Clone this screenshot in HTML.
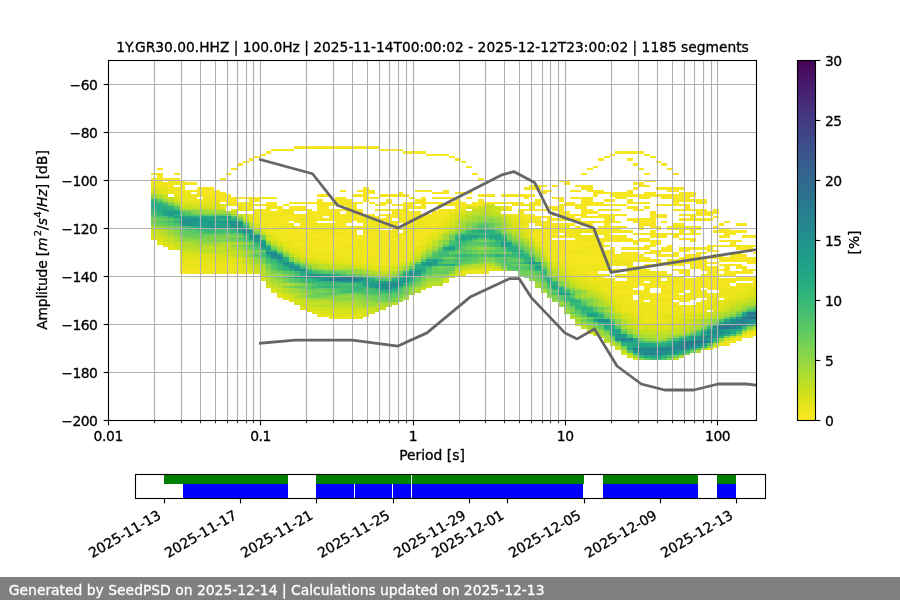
<!DOCTYPE html>
<html><head><meta charset="utf-8"><title>PPSD</title><style>html,body{margin:0;padding:0;background:#fff;width:900px;height:600px;overflow:hidden}svg{display:block;will-change:transform}text{stroke:#000;stroke-width:.3px}text.w{stroke:#fff}</style></head><body><svg width="900" height="600" viewBox="0 0 900 600">
<defs><clipPath id="axc"><rect x="108" y="60" width="648" height="360"/></clipPath>
<linearGradient id="cbg" x1="0" y1="1" x2="0" y2="0"><stop offset="0.000" stop-color="#fde725"/><stop offset="0.031" stop-color="#ece51b"/><stop offset="0.062" stop-color="#d8e219"/><stop offset="0.094" stop-color="#c2df23"/><stop offset="0.125" stop-color="#addc30"/><stop offset="0.156" stop-color="#98d83e"/><stop offset="0.188" stop-color="#84d44b"/><stop offset="0.219" stop-color="#70cf57"/><stop offset="0.250" stop-color="#5ec962"/><stop offset="0.281" stop-color="#4ec36b"/><stop offset="0.312" stop-color="#3fbc73"/><stop offset="0.344" stop-color="#32b67a"/><stop offset="0.375" stop-color="#28ae80"/><stop offset="0.406" stop-color="#22a785"/><stop offset="0.438" stop-color="#1fa088"/><stop offset="0.469" stop-color="#1f988b"/><stop offset="0.500" stop-color="#21918c"/><stop offset="0.531" stop-color="#23898e"/><stop offset="0.562" stop-color="#26828e"/><stop offset="0.594" stop-color="#297a8e"/><stop offset="0.625" stop-color="#2c728e"/><stop offset="0.656" stop-color="#2f6b8e"/><stop offset="0.688" stop-color="#33638d"/><stop offset="0.719" stop-color="#375b8d"/><stop offset="0.750" stop-color="#3b528b"/><stop offset="0.781" stop-color="#3e4989"/><stop offset="0.812" stop-color="#424086"/><stop offset="0.844" stop-color="#453781"/><stop offset="0.875" stop-color="#472d7b"/><stop offset="0.906" stop-color="#482374"/><stop offset="0.938" stop-color="#48186a"/><stop offset="0.969" stop-color="#470d60"/><stop offset="1.000" stop-color="#440154"/></linearGradient></defs>
<rect width="900" height="600" fill="#fff"/>
<g clip-path="url(#axc)" shape-rendering="crispEdges"><path fill="#f6e620" d="M323 237.6h91.7v2.4h-91.7zM546.6 237.6h5.7v2.4h-5.7zM598.2 237.6h34.4v2.4h-34.4zM638.3 237.6h11.5v2.4h-11.5zM678.5 237.6h17.2v2.4h-17.2zM288.6 235.2h86v2.4h-86zM397.5 235.2h28.7v2.4h-28.7zM535.1 235.2h40.2v2.4h-40.2zM603.9 235.2h23v2.4h-23zM649.8 235.2h17.2v2.4h-17.2zM672.7 235.2h5.8v2.4h-5.8zM718.6 235.2h11.5v2.4h-11.5zM741.5 235.2h14.5v2.4h-14.5zM311.5 232.8h11.5v2.4h-11.5zM363.1 232.8h63.1v2.4h-63.1zM535.1 232.8h23v2.4h-23zM592.5 232.8h17.2v2.4h-17.2zM632.6 232.8h68.8v2.4h-68.8zM724.3 232.8h11.5v2.4h-11.5zM282.9 230.4h28.6v2.4h-28.6zM340.2 230.4h17.2v2.4h-17.2zM380.3 230.4h11.5v2.4h-11.5zM420.5 230.4h11.4v2.4h-11.4zM540.9 230.4h5.7v2.4h-5.7zM586.7 230.4h45.9v2.4h-45.9zM649.8 230.4h5.7v2.4h-5.7zM678.5 230.4h5.7v2.4h-5.7zM689.9 230.4h5.8v2.4h-5.8zM712.9 230.4h34.4v2.4h-34.4zM282.9 228h22.9v2.4h-22.9zM374.6 228h5.7v2.4h-5.7zM391.8 228h40.1v2.4h-40.1zM546.6 228h22.9v2.4h-22.9zM586.7 228h34.4v2.4h-34.4zM638.3 228h5.8v2.4h-5.8zM655.5 228h5.8v2.4h-5.8zM667 228h34.4v2.4h-34.4zM718.6 228h11.5v2.4h-11.5zM265.7 225.6h11.4v2.4h-11.4zM294.3 225.6h34.4v2.4h-34.4zM334.5 225.6h22.9v2.4h-22.9zM523.7 225.6h5.7v2.4h-5.7zM540.9 225.6h17.2v2.4h-17.2zM575.3 225.6h5.7v2.4h-5.7zM598.2 225.6h28.7v2.4h-28.7zM638.3 225.6h5.8v2.4h-5.8zM649.8 225.6h11.5v2.4h-11.5zM667 225.6h34.4v2.4h-34.4zM712.9 225.6h5.7v2.4h-5.7zM271.4 223.2h11.5v2.4h-11.5zM334.5 223.2h11.4v2.4h-11.4zM386.1 223.2h11.4v2.4h-11.4zM403.3 223.2h11.4v2.4h-11.4zM426.2 223.2h11.5v2.4h-11.5zM535.1 223.2h40.2v2.4h-40.2zM581 223.2h11.5v2.4h-11.5zM603.9 223.2h5.8v2.4h-5.8zM638.3 223.2h17.2v2.4h-17.2zM672.7 223.2h11.5v2.4h-11.5zM718.6 223.2h5.7v2.4h-5.7zM735.8 223.2h11.5v2.4h-11.5zM277.1 220.8h11.5v2.4h-11.5zM311.5 220.8h5.8v2.4h-5.8zM334.5 220.8h17.2v2.4h-17.2zM357.4 220.8h5.7v2.4h-5.7zM397.5 220.8h17.2v2.4h-17.2zM540.9 220.8h11.4v2.4h-11.4zM575.3 220.8h45.8v2.4h-45.8zM632.6 220.8h22.9v2.4h-22.9zM661.3 220.8h5.7v2.4h-5.7zM724.3 220.8h5.8v2.4h-5.8zM259.9 218.4h40.2v2.4h-40.2zM328.7 218.4h34.4v2.4h-34.4zM374.6 218.4h17.2v2.4h-17.2zM546.6 218.4h34.4v2.4h-34.4zM603.9 218.4h11.5v2.4h-11.5zM626.9 218.4h28.6v2.4h-28.6zM678.5 218.4h34.4v2.4h-34.4zM271.4 216h51.6v2.4h-51.6zM328.7 216h51.6v2.4h-51.6zM386.1 216h57.3v2.4h-57.3zM523.7 216h28.6v2.4h-28.6zM563.8 216h11.5v2.4h-11.5zM581 216h34.4v2.4h-34.4zM649.8 216h17.2v2.4h-17.2zM689.9 216h5.8v2.4h-5.8zM712.9 216h5.7v2.4h-5.7zM282.9 213.6h91.7v2.4h-91.7zM380.3 213.6h63.1v2.4h-63.1zM517.9 213.6h17.2v2.4h-17.2zM552.3 213.6h34.4v2.4h-34.4zM598.2 213.6h28.7v2.4h-28.7zM649.8 213.6h17.2v2.4h-17.2zM678.5 213.6h34.4v2.4h-34.4zM259.9 211.2h23v2.4h-23zM311.5 211.2h28.7v2.4h-28.7zM345.9 211.2h17.2v2.4h-17.2zM391.8 211.2h28.7v2.4h-28.7zM431.9 211.2h17.2v2.4h-17.2zM558.1 211.2h11.4v2.4h-11.4zM581 211.2h17.2v2.4h-17.2zM649.8 211.2h5.7v2.4h-5.7zM695.7 211.2h22.9v2.4h-22.9zM265.7 208.8h5.7v2.4h-5.7zM277.1 208.8h5.8v2.4h-5.8zM288.6 208.8h22.9v2.4h-22.9zM317.3 208.8h45.8v2.4h-45.8zM374.6 208.8h34.4v2.4h-34.4zM437.7 208.8h17.2v2.4h-17.2zM517.9 208.8h28.7v2.4h-28.7zM552.3 208.8h11.5v2.4h-11.5zM581 208.8h11.5v2.4h-11.5zM598.2 208.8h22.9v2.4h-22.9zM632.6 208.8h11.5v2.4h-11.5zM672.7 208.8h34.4v2.4h-34.4zM712.9 208.8h5.7v2.4h-5.7zM277.1 206.4h5.8v2.4h-5.8zM288.6 206.4h17.2v2.4h-17.2zM317.3 206.4h11.4v2.4h-11.4zM345.9 206.4h11.5v2.4h-11.5zM403.3 206.4h22.9v2.4h-22.9zM454.9 206.4h11.4v2.4h-11.4zM506.5 206.4h5.7v2.4h-5.7zM529.4 206.4h5.7v2.4h-5.7zM546.6 206.4h17.2v2.4h-17.2zM575.3 206.4h11.4v2.4h-11.4zM626.9 206.4h11.4v2.4h-11.4zM644.1 206.4h5.7v2.4h-5.7zM684.2 206.4h5.7v2.4h-5.7zM259.9 204h17.2v2.4h-17.2zM282.9 204h5.7v2.4h-5.7zM317.3 204h17.2v2.4h-17.2zM340.2 204h17.2v2.4h-17.2zM374.6 204h11.5v2.4h-11.5zM391.8 204h22.9v2.4h-22.9zM420.5 204h5.7v2.4h-5.7zM437.7 204h45.8v2.4h-45.8zM512.2 204h28.7v2.4h-28.7zM558.1 204h68.8v2.4h-68.8zM655.5 204h34.4v2.4h-34.4zM231.3 201.6h22.9v2.4h-22.9zM265.7 201.6h11.4v2.4h-11.4zM288.6 201.6h74.5v2.4h-74.5zM368.9 201.6h5.7v2.4h-5.7zM380.3 201.6h11.5v2.4h-11.5zM403.3 201.6h40.1v2.4h-40.1zM449.1 201.6h17.2v2.4h-17.2zM472.1 201.6h51.6v2.4h-51.6zM529.4 201.6h11.5v2.4h-11.5zM563.8 201.6h11.5v2.4h-11.5zM581 201.6h22.9v2.4h-22.9zM626.9 201.6h22.9v2.4h-22.9zM672.7 201.6h5.8v2.4h-5.8zM695.7 201.6h11.4v2.4h-11.4zM219.8 199.2h17.2v2.4h-17.2zM248.5 199.2h11.4v2.4h-11.4zM317.3 199.2h5.7v2.4h-5.7zM334.5 199.2h17.2v2.4h-17.2zM363.1 199.2h5.8v2.4h-5.8zM386.1 199.2h5.7v2.4h-5.7zM414.7 199.2h11.5v2.4h-11.5zM454.9 199.2h5.7v2.4h-5.7zM477.8 199.2h5.7v2.4h-5.7zM535.1 199.2h5.8v2.4h-5.8zM558.1 199.2h5.7v2.4h-5.7zM581 199.2h11.5v2.4h-11.5zM603.9 199.2h11.5v2.4h-11.5zM626.9 199.2h5.7v2.4h-5.7zM672.7 199.2h34.4v2.4h-34.4zM214.1 196.8h63v2.4h-63zM334.5 196.8h11.4v2.4h-11.4zM363.1 196.8h17.2v2.4h-17.2zM409 196.8h5.7v2.4h-5.7zM420.5 196.8h5.7v2.4h-5.7zM431.9 196.8h23v2.4h-23zM466.3 196.8h5.8v2.4h-5.8zM523.7 196.8h5.7v2.4h-5.7zM552.3 196.8h11.5v2.4h-11.5zM569.5 196.8h23v2.4h-23zM615.4 196.8h11.5v2.4h-11.5zM638.3 196.8h11.5v2.4h-11.5zM661.3 196.8h28.6v2.4h-28.6zM202.6 194.4h28.7v2.4h-28.7zM317.3 194.4h11.4v2.4h-11.4zM351.7 194.4h17.2v2.4h-17.2zM380.3 194.4h28.7v2.4h-28.7zM477.8 194.4h17.2v2.4h-17.2zM500.7 194.4h34.4v2.4h-34.4zM592.5 194.4h5.7v2.4h-5.7zM609.7 194.4h86v2.4h-86zM196.9 192h28.6v2.4h-28.6zM363.1 192h11.5v2.4h-11.5zM397.5 192h5.8v2.4h-5.8zM431.9 192h17.2v2.4h-17.2zM454.9 192h17.2v2.4h-17.2zM540.9 192h5.7v2.4h-5.7zM592.5 192h40.1v2.4h-40.1zM644.1 192h11.4v2.4h-11.4zM678.5 192h17.2v2.4h-17.2zM179.7 189.6h40.1v2.4h-40.1zM340.2 189.6h5.7v2.4h-5.7zM357.4 189.6h17.2v2.4h-17.2zM414.7 189.6h17.2v2.4h-17.2zM443.4 189.6h5.7v2.4h-5.7zM540.9 189.6h11.4v2.4h-11.4zM569.5 189.6h11.5v2.4h-11.5zM586.7 189.6h17.2v2.4h-17.2zM626.9 189.6h5.7v2.4h-5.7zM667 189.6h11.5v2.4h-11.5zM179.7 187.2h5.7v2.4h-5.7zM196.9 187.2h17.2v2.4h-17.2zM363.1 187.2h5.8v2.4h-5.8zM523.7 187.2h17.2v2.4h-17.2zM581 187.2h11.5v2.4h-11.5zM632.6 187.2h5.7v2.4h-5.7zM655.5 187.2h28.7v2.4h-28.7zM168.2 184.8h5.7v2.4h-5.7zM179.7 184.8h5.7v2.4h-5.7zM529.4 184.8h17.2v2.4h-17.2zM552.3 184.8h5.8v2.4h-5.8zM575.3 184.8h17.2v2.4h-17.2zM638.3 184.8h11.5v2.4h-11.5zM179.7 182.4h17.2v2.4h-17.2zM563.8 182.4h5.7v2.4h-5.7zM632.6 182.4h11.5v2.4h-11.5zM179.7 180h5.7v2.4h-5.7zM558.1 180h11.4v2.4h-11.4zM644.1 180h11.4v2.4h-11.4zM151 177.6h28.7v2.4h-28.7zM219.8 177.6h5.7v2.4h-5.7zM477.8 177.6h5.7v2.4h-5.7zM151 172.8h11.5v2.4h-11.5zM173.9 172.8h5.8v2.4h-5.8zM225.5 172.8h5.8v2.4h-5.8zM472.1 172.8h5.7v2.4h-5.7zM581 172.8h5.7v2.4h-5.7zM644.1 172.8h5.7v2.4h-5.7zM672.7 172.8h5.8v2.4h-5.8zM294.3 242.4h63.1v2.4h-63.1zM391.8 242.4h28.7v2.4h-28.7zM552.3 242.4h51.6v2.4h-51.6zM632.6 242.4h5.7v2.4h-5.7zM649.8 242.4h11.5v2.4h-11.5zM730.1 242.4h5.7v2.4h-5.7zM305.8 240h45.9v2.4h-45.9zM540.9 240h17.2v2.4h-17.2zM563.8 240h11.5v2.4h-11.5zM603.9 240h57.4v2.4h-57.4zM689.9 240h5.8v2.4h-5.8zM718.6 240h22.9v2.4h-22.9zM156.7 175.2h5.8v2.4h-5.8zM156.7 168h5.8v2.4h-5.8zM231.3 168h5.7v2.4h-5.7zM586.7 168h5.8v2.4h-5.8zM638.3 168h5.8v2.4h-5.8zM667 168h5.7v2.4h-5.7zM328.7 244.8h11.5v2.4h-11.5zM351.7 244.8h17.2v2.4h-17.2zM540.9 244.8h45.8v2.4h-45.8zM644.1 244.8h11.4v2.4h-11.4zM667 244.8h5.7v2.4h-5.7zM707.1 244.8h48.9v2.4h-48.9zM311.5 247.2h23v2.4h-23zM363.1 247.2h11.5v2.4h-11.5zM386.1 247.2h22.9v2.4h-22.9zM558.1 247.2h22.9v2.4h-22.9zM598.2 247.2h5.7v2.4h-5.7zM609.7 247.2h5.7v2.4h-5.7zM621.1 247.2h28.7v2.4h-28.7zM661.3 247.2h11.4v2.4h-11.4zM678.5 247.2h34.4v2.4h-34.4zM735.8 247.2h17.2v2.4h-17.2zM179.7 271.2h17.2v2.4h-17.2zM586.7 271.2h11.5v2.4h-11.5zM626.9 271.2h11.4v2.4h-11.4zM655.5 271.2h11.5v2.4h-11.5zM678.5 271.2h11.4v2.4h-11.4zM707.1 271.2h11.5v2.4h-11.5zM724.3 271.2h28.7v2.4h-28.7zM598.2 268.8h11.5v2.4h-11.5zM638.3 268.8h11.5v2.4h-11.5zM672.7 268.8h17.2v2.4h-17.2zM701.4 268.8h28.7v2.4h-28.7zM741.5 268.8h14.5v2.4h-14.5zM632.6 266.4h5.7v2.4h-5.7zM689.9 266.4h28.7v2.4h-28.7zM724.3 266.4h5.8v2.4h-5.8zM735.8 266.4h11.5v2.4h-11.5zM581 264h28.7v2.4h-28.7zM644.1 264h17.2v2.4h-17.2zM667 264h17.2v2.4h-17.2zM689.9 264h17.2v2.4h-17.2zM718.6 264h22.9v2.4h-22.9zM569.5 261.6h34.4v2.4h-34.4zM655.5 261.6h63.1v2.4h-63.1zM747.3 261.6h8.7v2.4h-8.7zM569.5 259.2h34.4v2.4h-34.4zM626.9 259.2h34.4v2.4h-34.4zM667 259.2h40.1v2.4h-40.1zM718.6 259.2h37.4v2.4h-37.4zM558.1 256.8h91.7v2.4h-91.7zM678.5 256.8h77.5v2.4h-77.5zM363.1 254.4h28.7v2.4h-28.7zM558.1 254.4h86v2.4h-86zM655.5 254.4h23v2.4h-23zM684.2 254.4h17.2v2.4h-17.2zM712.9 254.4h11.4v2.4h-11.4zM730.1 254.4h17.2v2.4h-17.2zM558.1 252h11.4v2.4h-11.4zM621.1 252h17.2v2.4h-17.2zM644.1 252h17.2v2.4h-17.2zM672.7 252h5.8v2.4h-5.8zM695.7 252h11.4v2.4h-11.4zM730.1 252h11.4v2.4h-11.4zM753 252h3v2.4h-3zM323 249.6h63.1v2.4h-63.1zM586.7 249.6h28.7v2.4h-28.7zM649.8 249.6h22.9v2.4h-22.9zM678.5 249.6h11.4v2.4h-11.4zM707.1 249.6h11.5v2.4h-11.5zM747.3 249.6h5.7v2.4h-5.7zM609.7 278.4h5.7v2.4h-5.7zM626.9 278.4h34.4v2.4h-34.4zM667 278.4h5.7v2.4h-5.7zM678.5 278.4h34.4v2.4h-34.4zM747.3 278.4h8.7v2.4h-8.7zM632.6 276h5.7v2.4h-5.7zM695.7 276h22.9v2.4h-22.9zM735.8 276h20.2v2.4h-20.2zM621.1 273.6h23v2.4h-23zM684.2 273.6h5.7v2.4h-5.7zM701.4 273.6h34.4v2.4h-34.4zM632.6 285.6h5.7v2.4h-5.7zM644.1 285.6h86v2.4h-86zM609.7 283.2h120.4v2.4h-120.4zM735.8 283.2h5.7v2.4h-5.7zM615.4 280.8h11.5v2.4h-11.5zM707.1 280.8h28.7v2.4h-28.7zM615.4 290.4h17.2v2.4h-17.2zM661.3 288h40.1v2.4h-40.1zM707.1 288h5.8v2.4h-5.8zM655.5 295.2h34.4v2.4h-34.4zM615.4 292.8h63.1v2.4h-63.1zM626.9 297.6h5.7v2.4h-5.7zM638.3 297.6h11.5v2.4h-11.5zM626.9 300h17.2v2.4h-17.2zM684.2 300h5.7v2.4h-5.7zM655.5 302.4h23v2.4h-23zM667 307.2h11.5v2.4h-11.5zM747.3 333.6h8.7v2.4h-8.7zM741.5 336h11.5v2.4h-11.5zM724.3 343.2h5.8v2.4h-5.8zM237 163.2h5.7v2.4h-5.7zM632.6 163.2h5.7v2.4h-5.7zM661.3 163.2h5.7v2.4h-5.7zM242.7 160.8h5.8v2.4h-5.8zM460.6 160.8h5.7v2.4h-5.7zM655.5 160.8h5.8v2.4h-5.8zM248.5 158.4h5.7v2.4h-5.7zM454.9 158.4h5.7v2.4h-5.7zM598.2 158.4h5.7v2.4h-5.7zM626.9 158.4h5.7v2.4h-5.7zM254.2 156h5.7v2.4h-5.7zM449.1 156h5.8v2.4h-5.8zM603.9 156h5.8v2.4h-5.8zM649.8 156h5.7v2.4h-5.7zM259.9 153.6h5.8v2.4h-5.8zM426.2 153.6h22.9v2.4h-22.9zM609.7 153.6h5.7v2.4h-5.7zM644.1 153.6h5.7v2.4h-5.7zM265.7 151.2h5.7v2.4h-5.7zM403.3 151.2h22.9v2.4h-22.9zM615.4 151.2h28.7v2.4h-28.7zM271.4 148.8h22.9v2.4h-22.9zM380.3 148.8h23v2.4h-23zM294.3 146.4h86v2.4h-86zM466.3 165.6h5.8v2.4h-5.8zM592.5 165.6h5.7v2.4h-5.7z"/><path fill="#efe51c" d="M277.1 237.6h45.9v2.4h-45.9zM414.7 237.6h11.5v2.4h-11.5zM535.1 237.6h11.5v2.4h-11.5zM575.3 237.6h22.9v2.4h-22.9zM277.1 235.2h11.5v2.4h-11.5zM374.6 235.2h22.9v2.4h-22.9zM426.2 235.2h5.7v2.4h-5.7zM529.4 235.2h5.7v2.4h-5.7zM575.3 235.2h22.9v2.4h-22.9zM265.7 232.8h45.8v2.4h-45.8zM323 232.8h34.4v2.4h-34.4zM426.2 232.8h5.7v2.4h-5.7zM529.4 232.8h5.7v2.4h-5.7zM563.8 232.8h17.2v2.4h-17.2zM265.7 230.4h17.2v2.4h-17.2zM311.5 230.4h28.7v2.4h-28.7zM363.1 230.4h17.2v2.4h-17.2zM391.8 230.4h5.7v2.4h-5.7zM403.3 230.4h17.2v2.4h-17.2zM431.9 230.4h5.8v2.4h-5.8zM529.4 230.4h11.5v2.4h-11.5zM546.6 230.4h40.1v2.4h-40.1zM265.7 228h17.2v2.4h-17.2zM305.8 228h68.8v2.4h-68.8zM431.9 228h11.5v2.4h-11.5zM529.4 228h17.2v2.4h-17.2zM569.5 228h17.2v2.4h-17.2zM259.9 225.6h5.8v2.4h-5.8zM277.1 225.6h17.2v2.4h-17.2zM328.7 225.6h5.8v2.4h-5.8zM357.4 225.6h34.4v2.4h-34.4zM403.3 225.6h34.4v2.4h-34.4zM517.9 225.6h5.8v2.4h-5.8zM558.1 225.6h11.4v2.4h-11.4zM259.9 223.2h11.5v2.4h-11.5zM282.9 223.2h11.4v2.4h-11.4zM300.1 223.2h34.4v2.4h-34.4zM363.1 223.2h23v2.4h-23zM414.7 223.2h11.5v2.4h-11.5zM437.7 223.2h5.7v2.4h-5.7zM523.7 223.2h5.7v2.4h-5.7zM254.2 220.8h22.9v2.4h-22.9zM294.3 220.8h17.2v2.4h-17.2zM363.1 220.8h17.2v2.4h-17.2zM386.1 220.8h11.4v2.4h-11.4zM414.7 220.8h28.7v2.4h-28.7zM523.7 220.8h17.2v2.4h-17.2zM254.2 218.4h5.7v2.4h-5.7zM300.1 218.4h28.6v2.4h-28.6zM363.1 218.4h11.5v2.4h-11.5zM397.5 218.4h51.6v2.4h-51.6zM517.9 218.4h23v2.4h-23zM254.2 216h17.2v2.4h-17.2zM443.4 216h5.7v2.4h-5.7zM517.9 216h5.8v2.4h-5.8zM248.5 213.6h34.4v2.4h-34.4zM443.4 213.6h5.7v2.4h-5.7zM512.2 213.6h5.7v2.4h-5.7zM254.2 211.2h5.7v2.4h-5.7zM282.9 211.2h11.4v2.4h-11.4zM305.8 211.2h5.7v2.4h-5.7zM449.1 211.2h5.8v2.4h-5.8zM517.9 211.2h5.8v2.4h-5.8zM242.7 208.8h23v2.4h-23zM282.9 208.8h5.7v2.4h-5.7zM454.9 208.8h5.7v2.4h-5.7zM506.5 208.8h5.7v2.4h-5.7zM242.7 206.4h11.5v2.4h-11.5zM265.7 206.4h11.4v2.4h-11.4zM231.3 204h28.6v2.4h-28.6zM179.7 199.2h40.1v2.4h-40.1zM191.1 196.8h5.8v2.4h-5.8zM202.6 196.8h11.5v2.4h-11.5zM179.7 194.4h22.9v2.4h-22.9zM168.2 192h22.9v2.4h-22.9zM168.2 189.6h11.5v2.4h-11.5zM168.2 187.2h11.5v2.4h-11.5zM156.7 184.8h11.5v2.4h-11.5zM151 182.4h28.7v2.4h-28.7zM151 180h11.5v2.4h-11.5zM168.2 180h11.5v2.4h-11.5zM288.6 242.4h5.7v2.4h-5.7zM357.4 242.4h34.4v2.4h-34.4zM420.5 242.4h5.7v2.4h-5.7zM540.9 242.4h11.4v2.4h-11.4zM282.9 240h22.9v2.4h-22.9zM351.7 240h74.5v2.4h-74.5zM535.1 240h5.8v2.4h-5.8zM558.1 240h5.7v2.4h-5.7zM575.3 240h28.6v2.4h-28.6zM288.6 244.8h40.1v2.4h-40.1zM340.2 244.8h11.5v2.4h-11.5zM368.9 244.8h51.6v2.4h-51.6zM586.7 244.8h23v2.4h-23zM294.3 247.2h17.2v2.4h-17.2zM334.5 247.2h28.6v2.4h-28.6zM374.6 247.2h11.5v2.4h-11.5zM409 247.2h11.5v2.4h-11.5zM546.6 247.2h11.5v2.4h-11.5zM581 247.2h17.2v2.4h-17.2zM196.9 271.2h45.8v2.4h-45.8zM472.1 271.2h17.2v2.4h-17.2zM569.5 271.2h17.2v2.4h-17.2zM638.3 271.2h17.2v2.4h-17.2zM179.7 268.8h57.3v2.4h-57.3zM575.3 268.8h22.9v2.4h-22.9zM609.7 268.8h28.6v2.4h-28.6zM179.7 266.4h51.6v2.4h-51.6zM563.8 266.4h45.9v2.4h-45.9zM626.9 266.4h5.7v2.4h-5.7zM179.7 264h5.7v2.4h-5.7zM208.3 264h28.7v2.4h-28.7zM374.6 264h17.2v2.4h-17.2zM563.8 264h17.2v2.4h-17.2zM609.7 264h22.9v2.4h-22.9zM179.7 261.6h22.9v2.4h-22.9zM225.5 261.6h5.8v2.4h-5.8zM363.1 261.6h34.4v2.4h-34.4zM558.1 261.6h11.4v2.4h-11.4zM603.9 261.6h28.7v2.4h-28.7zM345.9 259.2h63.1v2.4h-63.1zM552.3 259.2h17.2v2.4h-17.2zM603.9 259.2h23v2.4h-23zM317.3 256.8h91.7v2.4h-91.7zM552.3 256.8h5.8v2.4h-5.8zM305.8 254.4h57.3v2.4h-57.3zM391.8 254.4h17.2v2.4h-17.2zM546.6 254.4h11.5v2.4h-11.5zM300.1 252h114.6v2.4h-114.6zM546.6 252h11.5v2.4h-11.5zM569.5 252h45.9v2.4h-45.9zM300.1 249.6h22.9v2.4h-22.9zM386.1 249.6h28.6v2.4h-28.6zM546.6 249.6h40.1v2.4h-40.1zM586.7 278.4h23v2.4h-23zM672.7 278.4h5.8v2.4h-5.8zM712.9 278.4h34.4v2.4h-34.4zM581 276h22.9v2.4h-22.9zM615.4 276h17.2v2.4h-17.2zM638.3 276h45.9v2.4h-45.9zM586.7 273.6h23v2.4h-23zM615.4 273.6h5.7v2.4h-5.7zM644.1 273.6h28.6v2.4h-28.6zM603.9 285.6h28.7v2.4h-28.7zM730.1 285.6h17.2v2.4h-17.2zM598.2 283.2h11.5v2.4h-11.5zM741.5 283.2h14.5v2.4h-14.5zM592.5 280.8h22.9v2.4h-22.9zM626.9 280.8h17.2v2.4h-17.2zM649.8 280.8h57.3v2.4h-57.3zM753 280.8h3v2.4h-3zM603.9 290.4h11.5v2.4h-11.5zM632.6 290.4h17.2v2.4h-17.2zM661.3 290.4h22.9v2.4h-22.9zM689.9 290.4h17.2v2.4h-17.2zM718.6 290.4h22.9v2.4h-22.9zM598.2 288h34.4v2.4h-34.4zM644.1 288h5.7v2.4h-5.7zM712.9 288h34.4v2.4h-34.4zM615.4 295.2h17.2v2.4h-17.2zM638.3 295.2h17.2v2.4h-17.2zM689.9 295.2h45.9v2.4h-45.9zM609.7 292.8h5.7v2.4h-5.7zM684.2 292.8h51.6v2.4h-51.6zM615.4 297.6h11.5v2.4h-11.5zM649.8 297.6h45.9v2.4h-45.9zM707.1 297.6h11.5v2.4h-11.5zM615.4 300h11.5v2.4h-11.5zM649.8 300h22.9v2.4h-22.9zM678.5 300h5.7v2.4h-5.7zM701.4 300h11.5v2.4h-11.5zM621.1 302.4h34.4v2.4h-34.4zM695.7 302.4h17.2v2.4h-17.2zM621.1 307.2h45.9v2.4h-45.9zM678.5 307.2h28.6v2.4h-28.6zM621.1 304.8h80.3v2.4h-80.3zM621.1 309.6h86v2.4h-86zM632.6 312h57.3v2.4h-57.3zM644.1 314.4h17.2v2.4h-17.2zM328.7 316.8h23v2.4h-23zM638.3 316.8h17.2v2.4h-17.2zM644.1 321.6h5.7v2.4h-5.7zM644.1 319.2h22.9v2.4h-22.9zM747.3 331.2h8.7v2.4h-8.7zM741.5 333.6h5.8v2.4h-5.8zM724.3 340.8h11.5v2.4h-11.5zM730.1 338.4h11.4v2.4h-11.4zM718.6 343.2h5.7v2.4h-5.7z"/><path fill="#e5e419" d="M151 237.6h5.7v2.4h-5.7zM271.4 237.6h5.7v2.4h-5.7zM426.2 237.6h5.7v2.4h-5.7zM271.4 235.2h5.7v2.4h-5.7zM431.9 235.2h5.8v2.4h-5.8zM431.9 232.8h5.8v2.4h-5.8zM437.7 230.4h5.7v2.4h-5.7zM523.7 230.4h5.7v2.4h-5.7zM259.9 228h5.8v2.4h-5.8zM523.7 228h5.7v2.4h-5.7zM437.7 225.6h5.7v2.4h-5.7zM443.4 223.2h5.7v2.4h-5.7zM517.9 223.2h5.8v2.4h-5.8zM443.4 220.8h5.7v2.4h-5.7zM517.9 220.8h5.8v2.4h-5.8zM248.5 218.4h5.7v2.4h-5.7zM512.2 218.4h5.7v2.4h-5.7zM248.5 216h5.7v2.4h-5.7zM449.1 216h5.8v2.4h-5.8zM512.2 216h5.7v2.4h-5.7zM449.1 213.6h5.8v2.4h-5.8zM506.5 213.6h5.7v2.4h-5.7zM454.9 211.2h5.7v2.4h-5.7zM237 208.8h5.7v2.4h-5.7zM500.7 208.8h5.8v2.4h-5.8zM237 206.4h5.7v2.4h-5.7zM500.7 206.4h5.8v2.4h-5.8zM208.3 204h23v2.4h-23zM191.1 201.6h28.7v2.4h-28.7zM225.5 201.6h5.8v2.4h-5.8zM179.7 196.8h11.4v2.4h-11.4zM173.9 194.4h5.8v2.4h-5.8zM162.5 192h5.7v2.4h-5.7zM162.5 189.6h5.7v2.4h-5.7zM156.7 187.2h11.5v2.4h-11.5zM151 184.8h5.7v2.4h-5.7zM156.7 242.4h5.8v2.4h-5.8zM282.9 242.4h5.7v2.4h-5.7zM535.1 242.4h5.8v2.4h-5.8zM277.1 240h5.8v2.4h-5.8zM426.2 240h5.7v2.4h-5.7zM162.5 244.8h5.7v2.4h-5.7zM282.9 244.8h5.7v2.4h-5.7zM420.5 244.8h5.7v2.4h-5.7zM535.1 244.8h5.8v2.4h-5.8zM168.2 247.2h5.7v2.4h-5.7zM288.6 247.2h5.7v2.4h-5.7zM540.9 247.2h5.7v2.4h-5.7zM242.7 271.2h11.5v2.4h-11.5zM460.6 271.2h11.5v2.4h-11.5zM563.8 271.2h5.7v2.4h-5.7zM237 268.8h5.7v2.4h-5.7zM380.3 268.8h11.5v2.4h-11.5zM472.1 268.8h22.9v2.4h-22.9zM563.8 268.8h11.5v2.4h-11.5zM231.3 266.4h11.4v2.4h-11.4zM368.9 266.4h22.9v2.4h-22.9zM558.1 266.4h5.7v2.4h-5.7zM185.4 264h22.9v2.4h-22.9zM237 264h5.7v2.4h-5.7zM357.4 264h17.2v2.4h-17.2zM391.8 264h5.7v2.4h-5.7zM558.1 264h5.7v2.4h-5.7zM202.6 261.6h22.9v2.4h-22.9zM231.3 261.6h5.7v2.4h-5.7zM328.7 261.6h34.4v2.4h-34.4zM397.5 261.6h5.8v2.4h-5.8zM179.7 259.2h57.3v2.4h-57.3zM317.3 259.2h28.6v2.4h-28.6zM179.7 256.8h22.9v2.4h-22.9zM305.8 256.8h11.5v2.4h-11.5zM409 256.8h5.7v2.4h-5.7zM546.6 256.8h5.7v2.4h-5.7zM300.1 254.4h5.7v2.4h-5.7zM409 254.4h5.7v2.4h-5.7zM294.3 252h5.8v2.4h-5.8zM414.7 252h5.8v2.4h-5.8zM294.3 249.6h5.8v2.4h-5.8zM414.7 249.6h5.8v2.4h-5.8zM540.9 249.6h5.7v2.4h-5.7zM581 278.4h5.7v2.4h-5.7zM575.3 276h5.7v2.4h-5.7zM460.6 273.6h5.7v2.4h-5.7zM569.5 273.6h17.2v2.4h-17.2zM592.5 285.6h11.4v2.4h-11.4zM747.3 285.6h8.7v2.4h-8.7zM586.7 283.2h11.5v2.4h-11.5zM581 280.8h11.5v2.4h-11.5zM741.5 290.4h11.5v2.4h-11.5zM592.5 288h5.7v2.4h-5.7zM747.3 288h8.7v2.4h-8.7zM277.1 295.2h5.8v2.4h-5.8zM609.7 295.2h5.7v2.4h-5.7zM735.8 295.2h11.5v2.4h-11.5zM603.9 292.8h5.8v2.4h-5.8zM735.8 292.8h11.5v2.4h-11.5zM609.7 297.6h5.7v2.4h-5.7zM724.3 297.6h11.5v2.4h-11.5zM712.9 300h17.2v2.4h-17.2zM615.4 302.4h5.7v2.4h-5.7zM712.9 302.4h11.4v2.4h-11.4zM707.1 307.2h11.5v2.4h-11.5zM615.4 304.8h5.7v2.4h-5.7zM701.4 304.8h11.5v2.4h-11.5zM626.9 312h5.7v2.4h-5.7zM689.9 312h11.5v2.4h-11.5zM317.3 314.4h17.2v2.4h-17.2zM345.9 314.4h17.2v2.4h-17.2zM632.6 314.4h11.5v2.4h-11.5zM661.3 314.4h17.2v2.4h-17.2zM351.7 316.8h11.4v2.4h-11.4zM632.6 316.8h5.7v2.4h-5.7zM655.5 316.8h40.2v2.4h-40.2zM655.5 324h5.8v2.4h-5.8zM638.3 321.6h5.8v2.4h-5.8zM649.8 321.6h17.2v2.4h-17.2zM638.3 319.2h5.8v2.4h-5.8zM667 319.2h11.5v2.4h-11.5zM735.8 336h5.7v2.4h-5.7zM707.1 348h5.8v2.4h-5.8zM712.9 345.6h5.7v2.4h-5.7z"/><path fill="#dde318" d="M156.7 237.6h5.8v2.4h-5.8zM431.9 237.6h5.8v2.4h-5.8zM529.4 237.6h5.7v2.4h-5.7zM523.7 235.2h5.7v2.4h-5.7zM523.7 232.8h5.7v2.4h-5.7zM443.4 228h5.7v2.4h-5.7zM517.9 228h5.8v2.4h-5.8zM443.4 225.6h5.7v2.4h-5.7zM512.2 225.6h5.7v2.4h-5.7zM254.2 223.2h5.7v2.4h-5.7zM512.2 223.2h5.7v2.4h-5.7zM512.2 220.8h5.7v2.4h-5.7zM449.1 218.4h5.8v2.4h-5.8zM454.9 216h5.7v2.4h-5.7zM506.5 216h5.7v2.4h-5.7zM242.7 213.6h5.8v2.4h-5.8zM454.9 213.6h5.7v2.4h-5.7zM460.6 211.2h5.7v2.4h-5.7zM231.3 208.8h5.7v2.4h-5.7zM460.6 208.8h5.7v2.4h-5.7zM214.1 206.4h11.4v2.4h-11.4zM466.3 206.4h11.5v2.4h-11.5zM196.9 204h11.4v2.4h-11.4zM179.7 201.6h11.4v2.4h-11.4zM173.9 196.8h5.8v2.4h-5.8zM156.7 192h5.8v2.4h-5.8zM156.7 189.6h5.8v2.4h-5.8zM151 187.2h5.7v2.4h-5.7zM162.5 242.4h5.7v2.4h-5.7zM277.1 242.4h5.8v2.4h-5.8zM426.2 242.4h5.7v2.4h-5.7zM156.7 240h5.8v2.4h-5.8zM529.4 240h5.7v2.4h-5.7zM168.2 244.8h5.7v2.4h-5.7zM420.5 247.2h5.7v2.4h-5.7zM242.7 268.8h5.8v2.4h-5.8zM374.6 268.8h5.7v2.4h-5.7zM466.3 268.8h5.8v2.4h-5.8zM495 268.8h5.7v2.4h-5.7zM242.7 266.4h5.8v2.4h-5.8zM363.1 266.4h5.8v2.4h-5.8zM242.7 264h5.8v2.4h-5.8zM351.7 264h5.7v2.4h-5.7zM397.5 264h5.8v2.4h-5.8zM552.3 264h5.8v2.4h-5.8zM237 261.6h5.7v2.4h-5.7zM323 261.6h5.7v2.4h-5.7zM552.3 261.6h5.8v2.4h-5.8zM237 259.2h5.7v2.4h-5.7zM305.8 259.2h11.5v2.4h-11.5zM409 259.2h5.7v2.4h-5.7zM546.6 259.2h5.7v2.4h-5.7zM202.6 256.8h34.4v2.4h-34.4zM300.1 256.8h5.7v2.4h-5.7zM179.7 254.4h34.4v2.4h-34.4zM540.9 252h5.7v2.4h-5.7zM288.6 249.6h5.7v2.4h-5.7zM575.3 278.4h5.7v2.4h-5.7zM569.5 276h5.8v2.4h-5.8zM454.9 273.6h5.7v2.4h-5.7zM563.8 273.6h5.7v2.4h-5.7zM265.7 285.6h5.7v2.4h-5.7zM586.7 285.6h5.8v2.4h-5.8zM581 283.2h5.7v2.4h-5.7zM575.3 280.8h5.7v2.4h-5.7zM271.4 290.4h5.7v2.4h-5.7zM598.2 290.4h5.7v2.4h-5.7zM753 290.4h3v2.4h-3zM586.7 288h5.8v2.4h-5.8zM282.9 295.2h5.7v2.4h-5.7zM603.9 295.2h5.8v2.4h-5.8zM747.3 295.2h5.7v2.4h-5.7zM277.1 292.8h5.8v2.4h-5.8zM747.3 292.8h8.7v2.4h-8.7zM282.9 297.6h11.4v2.4h-11.4zM735.8 297.6h5.7v2.4h-5.7zM288.6 300h5.7v2.4h-5.7zM609.7 300h5.7v2.4h-5.7zM730.1 300h11.4v2.4h-11.4zM609.7 302.4h5.7v2.4h-5.7zM724.3 302.4h5.8v2.4h-5.8zM300.1 307.2h5.7v2.4h-5.7zM615.4 307.2h5.7v2.4h-5.7zM718.6 307.2h5.7v2.4h-5.7zM712.9 304.8h11.4v2.4h-11.4zM305.8 309.6h40.1v2.4h-40.1zM615.4 309.6h5.7v2.4h-5.7zM712.9 309.6h5.7v2.4h-5.7zM311.5 312h17.2v2.4h-17.2zM621.1 312h5.8v2.4h-5.8zM701.4 312h5.7v2.4h-5.7zM334.5 314.4h11.4v2.4h-11.4zM363.1 314.4h5.8v2.4h-5.8zM626.9 314.4h5.7v2.4h-5.7zM678.5 314.4h17.2v2.4h-17.2zM626.9 316.8h5.7v2.4h-5.7zM695.7 316.8h5.7v2.4h-5.7zM638.3 324h17.2v2.4h-17.2zM661.3 324h17.2v2.4h-17.2zM632.6 321.6h5.7v2.4h-5.7zM667 321.6h22.9v2.4h-22.9zM632.6 319.2h5.7v2.4h-5.7zM678.5 319.2h5.7v2.4h-5.7zM638.3 326.4h5.8v2.4h-5.8zM649.8 326.4h22.9v2.4h-22.9zM753 328.8h3v2.4h-3zM632.6 357.6h5.7v2.4h-5.7z"/><path fill="#d2e21b" d="M162.5 237.6h5.7v2.4h-5.7zM265.7 237.6h5.7v2.4h-5.7zM151 235.2h5.7v2.4h-5.7zM437.7 232.8h5.7v2.4h-5.7zM259.9 230.4h5.8v2.4h-5.8zM443.4 230.4h5.7v2.4h-5.7zM517.9 230.4h5.8v2.4h-5.8zM512.2 228h5.7v2.4h-5.7zM254.2 225.6h5.7v2.4h-5.7zM449.1 223.2h5.8v2.4h-5.8zM248.5 220.8h5.7v2.4h-5.7zM449.1 220.8h5.8v2.4h-5.8zM506.5 218.4h5.7v2.4h-5.7zM242.7 216h5.8v2.4h-5.8zM500.7 213.6h5.8v2.4h-5.8zM495 208.8h5.7v2.4h-5.7zM196.9 206.4h17.2v2.4h-17.2zM179.7 204h17.2v2.4h-17.2zM489.3 204h5.7v2.4h-5.7zM173.9 199.2h5.8v2.4h-5.8zM168.2 242.4h5.7v2.4h-5.7zM271.4 240h5.7v2.4h-5.7zM426.2 244.8h5.7v2.4h-5.7zM173.9 247.2h5.8v2.4h-5.8zM282.9 247.2h5.7v2.4h-5.7zM254.2 271.2h5.7v2.4h-5.7zM558.1 271.2h5.7v2.4h-5.7zM248.5 268.8h5.7v2.4h-5.7zM368.9 268.8h5.7v2.4h-5.7zM391.8 268.8h5.7v2.4h-5.7zM460.6 268.8h5.7v2.4h-5.7zM558.1 268.8h5.7v2.4h-5.7zM248.5 266.4h5.7v2.4h-5.7zM357.4 266.4h5.7v2.4h-5.7zM391.8 266.4h5.7v2.4h-5.7zM483.5 266.4h11.5v2.4h-11.5zM552.3 266.4h5.8v2.4h-5.8zM340.2 264h11.5v2.4h-11.5zM317.3 261.6h5.7v2.4h-5.7zM403.3 261.6h5.7v2.4h-5.7zM237 256.8h5.7v2.4h-5.7zM214.1 254.4h11.4v2.4h-11.4zM294.3 254.4h5.8v2.4h-5.8zM414.7 254.4h5.8v2.4h-5.8zM540.9 254.4h5.7v2.4h-5.7zM179.7 252h22.9v2.4h-22.9zM225.5 252h5.8v2.4h-5.8zM288.6 252h5.7v2.4h-5.7zM420.5 249.6h5.7v2.4h-5.7zM259.9 278.4h5.8v2.4h-5.8zM569.5 278.4h5.8v2.4h-5.8zM563.8 276h5.7v2.4h-5.7zM581 285.6h5.7v2.4h-5.7zM575.3 283.2h5.7v2.4h-5.7zM443.4 280.8h5.7v2.4h-5.7zM592.5 290.4h5.7v2.4h-5.7zM271.4 288h5.7v2.4h-5.7zM753 295.2h3v2.4h-3zM598.2 292.8h5.7v2.4h-5.7zM603.9 297.6h5.8v2.4h-5.8zM741.5 297.6h5.8v2.4h-5.8zM294.3 300h5.8v2.4h-5.8zM741.5 300h5.8v2.4h-5.8zM294.3 302.4h5.8v2.4h-5.8zM730.1 302.4h5.7v2.4h-5.7zM305.8 307.2h17.2v2.4h-17.2zM300.1 304.8h5.7v2.4h-5.7zM609.7 304.8h5.7v2.4h-5.7zM724.3 304.8h5.8v2.4h-5.8zM345.9 309.6h23v2.4h-23zM718.6 309.6h5.7v2.4h-5.7zM328.7 312h45.9v2.4h-45.9zM707.1 312h5.8v2.4h-5.8zM621.1 314.4h5.8v2.4h-5.8zM695.7 314.4h11.4v2.4h-11.4zM621.1 316.8h5.8v2.4h-5.8zM701.4 316.8h5.7v2.4h-5.7zM632.6 324h5.7v2.4h-5.7zM678.5 324h11.4v2.4h-11.4zM689.9 321.6h5.8v2.4h-5.8zM632.6 326.4h5.7v2.4h-5.7zM644.1 326.4h5.7v2.4h-5.7zM672.7 326.4h5.8v2.4h-5.8zM586.7 331.2h5.8v2.4h-5.8zM655.5 328.8h11.5v2.4h-11.5zM603.9 340.8h5.8v2.4h-5.8zM724.3 338.4h5.8v2.4h-5.8zM621.1 352.8h5.8v2.4h-5.8zM626.9 355.2h5.7v2.4h-5.7z"/><path fill="#cae11f" d="M156.7 235.2h5.8v2.4h-5.8zM265.7 235.2h5.7v2.4h-5.7zM437.7 235.2h5.7v2.4h-5.7zM151 232.8h5.7v2.4h-5.7zM517.9 232.8h5.8v2.4h-5.8zM151 230.4h5.7v2.4h-5.7zM449.1 228h5.8v2.4h-5.8zM449.1 225.6h5.8v2.4h-5.8zM506.5 225.6h5.7v2.4h-5.7zM506.5 220.8h5.7v2.4h-5.7zM454.9 218.4h5.7v2.4h-5.7zM460.6 216h5.7v2.4h-5.7zM460.6 213.6h5.7v2.4h-5.7zM466.3 211.2h5.8v2.4h-5.8zM495 211.2h5.7v2.4h-5.7zM185.4 206.4h11.5v2.4h-11.5zM477.8 206.4h5.7v2.4h-5.7zM495 206.4h5.7v2.4h-5.7zM483.5 204h5.8v2.4h-5.8zM168.2 196.8h5.7v2.4h-5.7zM162.5 194.4h5.7v2.4h-5.7zM151 192h5.7v2.4h-5.7zM151 189.6h5.7v2.4h-5.7zM173.9 242.4h5.8v2.4h-5.8zM162.5 240h5.7v2.4h-5.7zM173.9 244.8h5.8v2.4h-5.8zM277.1 244.8h5.8v2.4h-5.8zM535.1 247.2h5.8v2.4h-5.8zM454.9 271.2h5.7v2.4h-5.7zM254.2 268.8h5.7v2.4h-5.7zM351.7 266.4h5.7v2.4h-5.7zM477.8 266.4h5.7v2.4h-5.7zM248.5 264h5.7v2.4h-5.7zM334.5 264h5.7v2.4h-5.7zM403.3 264h5.7v2.4h-5.7zM242.7 261.6h5.8v2.4h-5.8zM311.5 261.6h5.8v2.4h-5.8zM242.7 259.2h5.8v2.4h-5.8zM300.1 259.2h5.7v2.4h-5.7zM225.5 254.4h5.8v2.4h-5.8zM202.6 252h22.9v2.4h-22.9zM231.3 252h5.7v2.4h-5.7zM179.7 249.6h17.2v2.4h-17.2zM443.4 278.4h5.7v2.4h-5.7zM259.9 276h5.8v2.4h-5.8zM558.1 273.6h5.7v2.4h-5.7zM271.4 285.6h5.7v2.4h-5.7zM426.2 285.6h5.7v2.4h-5.7zM575.3 285.6h5.7v2.4h-5.7zM265.7 283.2h5.7v2.4h-5.7zM569.5 280.8h5.8v2.4h-5.8zM277.1 290.4h5.8v2.4h-5.8zM277.1 288h5.8v2.4h-5.8zM420.5 288h5.7v2.4h-5.7zM581 288h5.7v2.4h-5.7zM288.6 295.2h5.7v2.4h-5.7zM598.2 295.2h5.7v2.4h-5.7zM282.9 292.8h5.7v2.4h-5.7zM294.3 297.6h5.8v2.4h-5.8zM300.1 300h5.7v2.4h-5.7zM603.9 300h5.8v2.4h-5.8zM300.1 302.4h22.9v2.4h-22.9zM735.8 302.4h5.7v2.4h-5.7zM323 307.2h40.1v2.4h-40.1zM724.3 307.2h5.8v2.4h-5.8zM305.8 304.8h5.7v2.4h-5.7zM730.1 304.8h5.7v2.4h-5.7zM368.9 309.6h5.7v2.4h-5.7zM615.4 312h5.7v2.4h-5.7zM712.9 312h5.7v2.4h-5.7zM707.1 314.4h5.8v2.4h-5.8zM707.1 316.8h5.8v2.4h-5.8zM689.9 324h5.8v2.4h-5.8zM626.9 321.6h5.7v2.4h-5.7zM695.7 321.6h5.7v2.4h-5.7zM626.9 319.2h5.7v2.4h-5.7zM684.2 319.2h5.7v2.4h-5.7zM678.5 326.4h5.7v2.4h-5.7zM644.1 331.2h22.9v2.4h-22.9zM638.3 328.8h17.2v2.4h-17.2zM667 328.8h11.5v2.4h-11.5zM718.6 340.8h5.7v2.4h-5.7zM615.4 348h5.7v2.4h-5.7zM615.4 345.6h5.7v2.4h-5.7z"/><path fill="#c2df23" d="M168.2 237.6h5.7v2.4h-5.7zM437.7 237.6h5.7v2.4h-5.7zM523.7 237.6h5.7v2.4h-5.7zM162.5 235.2h5.7v2.4h-5.7zM517.9 235.2h5.8v2.4h-5.8zM156.7 232.8h5.8v2.4h-5.8zM259.9 232.8h5.8v2.4h-5.8zM156.7 230.4h5.8v2.4h-5.8zM512.2 230.4h5.7v2.4h-5.7zM454.9 223.2h5.7v2.4h-5.7zM506.5 223.2h5.7v2.4h-5.7zM454.9 220.8h5.7v2.4h-5.7zM242.7 218.4h5.8v2.4h-5.8zM500.7 216h5.8v2.4h-5.8zM237 213.6h5.7v2.4h-5.7zM495 213.6h5.7v2.4h-5.7zM231.3 211.2h5.7v2.4h-5.7zM472.1 211.2h5.7v2.4h-5.7zM489.3 211.2h5.7v2.4h-5.7zM219.8 208.8h5.7v2.4h-5.7zM472.1 208.8h5.7v2.4h-5.7zM489.3 208.8h5.7v2.4h-5.7zM179.7 206.4h5.7v2.4h-5.7zM483.5 206.4h11.5v2.4h-11.5zM162.5 196.8h5.7v2.4h-5.7zM271.4 242.4h5.7v2.4h-5.7zM529.4 242.4h5.7v2.4h-5.7zM168.2 240h5.7v2.4h-5.7zM431.9 240h5.8v2.4h-5.8zM523.7 240h5.7v2.4h-5.7zM529.4 244.8h5.7v2.4h-5.7zM179.7 247.2h5.7v2.4h-5.7zM202.6 247.2h28.7v2.4h-28.7zM426.2 247.2h5.7v2.4h-5.7zM380.3 271.2h11.5v2.4h-11.5zM552.3 268.8h5.8v2.4h-5.8zM254.2 266.4h5.7v2.4h-5.7zM323 266.4h28.7v2.4h-28.7zM397.5 266.4h5.8v2.4h-5.8zM472.1 266.4h5.7v2.4h-5.7zM328.7 264h5.8v2.4h-5.8zM483.5 264h5.8v2.4h-5.8zM546.6 264h5.7v2.4h-5.7zM305.8 261.6h5.7v2.4h-5.7zM546.6 261.6h5.7v2.4h-5.7zM242.7 256.8h5.8v2.4h-5.8zM414.7 256.8h5.8v2.4h-5.8zM540.9 256.8h5.7v2.4h-5.7zM231.3 254.4h5.7v2.4h-5.7zM237 252h5.7v2.4h-5.7zM420.5 252h5.7v2.4h-5.7zM196.9 249.6h5.7v2.4h-5.7zM282.9 249.6h5.7v2.4h-5.7zM535.1 249.6h5.8v2.4h-5.8zM563.8 278.4h5.7v2.4h-5.7zM449.1 276h5.8v2.4h-5.8zM259.9 273.6h5.8v2.4h-5.8zM569.5 283.2h5.8v2.4h-5.8zM265.7 280.8h5.7v2.4h-5.7zM586.7 290.4h5.8v2.4h-5.8zM288.6 292.8h5.7v2.4h-5.7zM592.5 292.8h5.7v2.4h-5.7zM300.1 297.6h5.7v2.4h-5.7zM747.3 297.6h5.7v2.4h-5.7zM747.3 300h8.7v2.4h-8.7zM323 302.4h5.7v2.4h-5.7zM603.9 302.4h5.8v2.4h-5.8zM741.5 302.4h5.8v2.4h-5.8zM363.1 307.2h23v2.4h-23zM609.7 307.2h5.7v2.4h-5.7zM730.1 307.2h5.7v2.4h-5.7zM311.5 304.8h5.8v2.4h-5.8zM340.2 304.8h11.5v2.4h-11.5zM374.6 309.6h5.7v2.4h-5.7zM609.7 309.6h5.7v2.4h-5.7zM724.3 309.6h5.8v2.4h-5.8zM575.3 324h5.7v2.4h-5.7zM695.7 324h5.7v2.4h-5.7zM689.9 319.2h5.8v2.4h-5.8zM581 326.4h5.7v2.4h-5.7zM626.9 326.4h5.7v2.4h-5.7zM684.2 326.4h5.7v2.4h-5.7zM592.5 331.2h5.7v2.4h-5.7zM638.3 331.2h5.8v2.4h-5.8zM667 331.2h17.2v2.4h-17.2zM741.5 331.2h5.8v2.4h-5.8zM586.7 328.8h5.8v2.4h-5.8zM678.5 328.8h11.4v2.4h-11.4zM592.5 333.6h5.7v2.4h-5.7zM598.2 336h5.7v2.4h-5.7zM730.1 336h5.7v2.4h-5.7zM609.7 343.2h5.7v2.4h-5.7zM621.1 350.4h5.8v2.4h-5.8z"/><path fill="#b8de29" d="M168.2 235.2h5.7v2.4h-5.7zM443.4 232.8h5.7v2.4h-5.7zM449.1 230.4h5.8v2.4h-5.8zM151 228h5.7v2.4h-5.7zM254.2 228h5.7v2.4h-5.7zM506.5 228h5.7v2.4h-5.7zM454.9 225.6h5.7v2.4h-5.7zM248.5 223.2h5.7v2.4h-5.7zM460.6 218.4h5.7v2.4h-5.7zM500.7 218.4h5.8v2.4h-5.8zM466.3 216h5.8v2.4h-5.8zM466.3 213.6h5.8v2.4h-5.8zM483.5 213.6h11.5v2.4h-11.5zM477.8 211.2h11.5v2.4h-11.5zM214.1 208.8h5.7v2.4h-5.7zM477.8 208.8h11.5v2.4h-11.5zM168.2 199.2h5.7v2.4h-5.7zM156.7 194.4h5.8v2.4h-5.8zM179.7 242.4h5.7v2.4h-5.7zM225.5 242.4h5.8v2.4h-5.8zM431.9 242.4h5.8v2.4h-5.8zM202.6 244.8h28.7v2.4h-28.7zM431.9 244.8h5.8v2.4h-5.8zM185.4 247.2h17.2v2.4h-17.2zM259.9 271.2h5.8v2.4h-5.8zM374.6 271.2h5.7v2.4h-5.7zM259.9 268.8h5.8v2.4h-5.8zM363.1 268.8h5.8v2.4h-5.8zM317.3 266.4h5.7v2.4h-5.7zM460.6 266.4h11.5v2.4h-11.5zM495 266.4h5.7v2.4h-5.7zM254.2 264h5.7v2.4h-5.7zM317.3 264h11.4v2.4h-11.4zM477.8 264h5.7v2.4h-5.7zM489.3 264h5.7v2.4h-5.7zM248.5 261.6h5.7v2.4h-5.7zM248.5 259.2h5.7v2.4h-5.7zM540.9 259.2h5.7v2.4h-5.7zM294.3 256.8h5.8v2.4h-5.8zM237 254.4h5.7v2.4h-5.7zM288.6 254.4h5.7v2.4h-5.7zM535.1 252h5.8v2.4h-5.8zM202.6 249.6h34.4v2.4h-34.4zM265.7 278.4h5.7v2.4h-5.7zM558.1 276h5.7v2.4h-5.7zM449.1 273.6h5.8v2.4h-5.8zM552.3 273.6h5.8v2.4h-5.8zM420.5 285.6h5.7v2.4h-5.7zM271.4 283.2h5.7v2.4h-5.7zM426.2 283.2h17.2v2.4h-17.2zM282.9 290.4h5.7v2.4h-5.7zM414.7 290.4h5.8v2.4h-5.8zM282.9 288h5.7v2.4h-5.7zM592.5 295.2h5.7v2.4h-5.7zM294.3 292.8h5.8v2.4h-5.8zM586.7 292.8h5.8v2.4h-5.8zM598.2 297.6h5.7v2.4h-5.7zM753 297.6h3v2.4h-3zM305.8 300h5.7v2.4h-5.7zM317.3 300h5.7v2.4h-5.7zM328.7 302.4h5.8v2.4h-5.8zM391.8 302.4h5.7v2.4h-5.7zM747.3 302.4h8.7v2.4h-8.7zM735.8 307.2h5.7v2.4h-5.7zM334.5 304.8h5.7v2.4h-5.7zM351.7 304.8h5.7v2.4h-5.7zM380.3 304.8h11.5v2.4h-11.5zM603.9 304.8h5.8v2.4h-5.8zM735.8 304.8h5.7v2.4h-5.7zM718.6 312h5.7v2.4h-5.7zM615.4 314.4h5.7v2.4h-5.7zM712.9 314.4h5.7v2.4h-5.7zM569.5 316.8h5.8v2.4h-5.8zM615.4 316.8h5.7v2.4h-5.7zM712.9 316.8h5.7v2.4h-5.7zM626.9 324h5.7v2.4h-5.7zM575.3 321.6h5.7v2.4h-5.7zM621.1 321.6h5.8v2.4h-5.8zM701.4 321.6h5.7v2.4h-5.7zM689.9 326.4h5.8v2.4h-5.8zM632.6 331.2h5.7v2.4h-5.7zM632.6 328.8h5.7v2.4h-5.7zM747.3 328.8h5.7v2.4h-5.7zM649.8 333.6h17.2v2.4h-17.2zM655.5 336h11.5v2.4h-11.5zM609.7 340.8h5.7v2.4h-5.7zM712.9 343.2h5.7v2.4h-5.7zM626.9 352.8h5.7v2.4h-5.7zM672.7 357.6h5.8v2.4h-5.8z"/><path fill="#b0dd2f" d="M173.9 237.6h5.8v2.4h-5.8zM162.5 232.8h5.7v2.4h-5.7zM512.2 232.8h5.7v2.4h-5.7zM162.5 230.4h5.7v2.4h-5.7zM506.5 230.4h5.7v2.4h-5.7zM454.9 228h5.7v2.4h-5.7zM151 225.6h5.7v2.4h-5.7zM500.7 220.8h5.8v2.4h-5.8zM466.3 218.4h5.8v2.4h-5.8zM495 216h5.7v2.4h-5.7zM472.1 213.6h11.4v2.4h-11.4zM208.3 208.8h5.8v2.4h-5.8zM173.9 201.6h5.8v2.4h-5.8zM185.4 242.4h5.7v2.4h-5.7zM219.8 242.4h5.7v2.4h-5.7zM231.3 242.4h5.7v2.4h-5.7zM173.9 240h5.8v2.4h-5.8zM265.7 240h5.7v2.4h-5.7zM179.7 244.8h22.9v2.4h-22.9zM231.3 247.2h5.7v2.4h-5.7zM368.9 271.2h5.7v2.4h-5.7zM552.3 271.2h5.8v2.4h-5.8zM397.5 268.8h5.8v2.4h-5.8zM454.9 268.8h5.7v2.4h-5.7zM500.7 268.8h5.8v2.4h-5.8zM546.6 266.4h5.7v2.4h-5.7zM311.5 264h5.8v2.4h-5.8zM472.1 264h5.7v2.4h-5.7zM409 261.6h5.7v2.4h-5.7zM414.7 259.2h5.8v2.4h-5.8zM248.5 256.8h5.7v2.4h-5.7zM242.7 252h5.8v2.4h-5.8zM237 249.6h5.7v2.4h-5.7zM558.1 278.4h5.7v2.4h-5.7zM380.3 273.6h11.5v2.4h-11.5zM277.1 285.6h5.8v2.4h-5.8zM569.5 285.6h5.8v2.4h-5.8zM277.1 283.2h11.5v2.4h-11.5zM271.4 280.8h5.7v2.4h-5.7zM426.2 280.8h17.2v2.4h-17.2zM563.8 280.8h5.7v2.4h-5.7zM540.9 290.4h5.7v2.4h-5.7zM414.7 288h5.8v2.4h-5.8zM575.3 288h5.7v2.4h-5.7zM294.3 295.2h5.8v2.4h-5.8zM586.7 295.2h5.8v2.4h-5.8zM403.3 297.6h5.7v2.4h-5.7zM311.5 300h5.8v2.4h-5.8zM323 300h11.5v2.4h-11.5zM598.2 300h5.7v2.4h-5.7zM334.5 302.4h22.9v2.4h-22.9zM598.2 302.4h5.7v2.4h-5.7zM317.3 304.8h17.2v2.4h-17.2zM357.4 304.8h5.7v2.4h-5.7zM374.6 304.8h5.7v2.4h-5.7zM730.1 309.6h5.7v2.4h-5.7zM609.7 312h5.7v2.4h-5.7zM724.3 312h5.8v2.4h-5.8zM718.6 314.4h5.7v2.4h-5.7zM701.4 324h5.7v2.4h-5.7zM621.1 319.2h5.8v2.4h-5.8zM695.7 319.2h5.7v2.4h-5.7zM695.7 326.4h5.7v2.4h-5.7zM753 326.4h3v2.4h-3zM684.2 331.2h5.7v2.4h-5.7zM689.9 328.8h5.8v2.4h-5.8zM644.1 333.6h5.7v2.4h-5.7zM667 333.6h5.7v2.4h-5.7zM644.1 336h11.4v2.4h-11.4zM655.5 338.4h5.8v2.4h-5.8zM701.4 348h5.7v2.4h-5.7zM695.7 350.4h5.7v2.4h-5.7z"/><path fill="#a5db36" d="M517.9 237.6h5.8v2.4h-5.8zM443.4 235.2h5.7v2.4h-5.7zM156.7 228h5.8v2.4h-5.8zM460.6 225.6h5.7v2.4h-5.7zM500.7 225.6h5.8v2.4h-5.8zM460.6 223.2h5.7v2.4h-5.7zM460.6 220.8h5.7v2.4h-5.7zM472.1 216h5.7v2.4h-5.7zM489.3 216h5.7v2.4h-5.7zM214.1 211.2h5.7v2.4h-5.7zM225.5 211.2h5.8v2.4h-5.8zM202.6 208.8h5.7v2.4h-5.7zM156.7 196.8h5.8v2.4h-5.8zM191.1 242.4h5.8v2.4h-5.8zM214.1 242.4h5.7v2.4h-5.7zM237 242.4h5.7v2.4h-5.7zM523.7 242.4h5.7v2.4h-5.7zM277.1 247.2h5.8v2.4h-5.8zM363.1 271.2h5.8v2.4h-5.8zM391.8 271.2h5.7v2.4h-5.7zM357.4 268.8h5.7v2.4h-5.7zM259.9 266.4h5.8v2.4h-5.8zM311.5 266.4h5.8v2.4h-5.8zM403.3 266.4h5.7v2.4h-5.7zM294.3 259.2h5.8v2.4h-5.8zM420.5 254.4h5.7v2.4h-5.7zM282.9 252h5.7v2.4h-5.7zM242.7 249.6h5.8v2.4h-5.8zM426.2 249.6h5.7v2.4h-5.7zM437.7 278.4h5.7v2.4h-5.7zM265.7 276h5.7v2.4h-5.7zM265.7 273.6h5.7v2.4h-5.7zM374.6 273.6h5.7v2.4h-5.7zM535.1 285.6h5.8v2.4h-5.8zM288.6 283.2h5.7v2.4h-5.7zM535.1 283.2h5.8v2.4h-5.8zM563.8 283.2h5.7v2.4h-5.7zM288.6 290.4h5.7v2.4h-5.7zM288.6 288h5.7v2.4h-5.7zM581 295.2h5.7v2.4h-5.7zM300.1 292.8h5.7v2.4h-5.7zM581 292.8h5.7v2.4h-5.7zM305.8 297.6h5.7v2.4h-5.7zM334.5 300h5.7v2.4h-5.7zM345.9 300h11.5v2.4h-11.5zM357.4 302.4h5.7v2.4h-5.7zM380.3 302.4h11.5v2.4h-11.5zM363.1 304.8h11.5v2.4h-11.5zM598.2 304.8h5.7v2.4h-5.7zM741.5 304.8h5.8v2.4h-5.8zM603.9 309.6h5.8v2.4h-5.8zM730.1 312h5.7v2.4h-5.7zM575.3 316.8h5.7v2.4h-5.7zM581 324h5.7v2.4h-5.7zM707.1 321.6h5.8v2.4h-5.8zM701.4 319.2h5.7v2.4h-5.7zM621.1 326.4h5.8v2.4h-5.8zM592.5 328.8h5.7v2.4h-5.7zM638.3 333.6h5.8v2.4h-5.8zM672.7 333.6h5.8v2.4h-5.8zM603.9 336h5.8v2.4h-5.8zM638.3 336h5.8v2.4h-5.8zM667 336h5.7v2.4h-5.7zM603.9 338.4h5.8v2.4h-5.8zM678.5 355.2h5.7v2.4h-5.7z"/><path fill="#9dd93b" d="M443.4 237.6h5.7v2.4h-5.7zM173.9 235.2h5.8v2.4h-5.8zM512.2 235.2h5.7v2.4h-5.7zM168.2 232.8h5.7v2.4h-5.7zM168.2 230.4h5.7v2.4h-5.7zM156.7 225.6h5.8v2.4h-5.8zM500.7 223.2h5.8v2.4h-5.8zM466.3 220.8h5.8v2.4h-5.8zM472.1 218.4h5.7v2.4h-5.7zM237 216h5.7v2.4h-5.7zM477.8 216h11.5v2.4h-11.5zM231.3 213.6h5.7v2.4h-5.7zM202.6 211.2h11.5v2.4h-11.5zM219.8 211.2h5.7v2.4h-5.7zM196.9 208.8h5.7v2.4h-5.7zM173.9 204h5.8v2.4h-5.8zM162.5 199.2h5.7v2.4h-5.7zM151 194.4h5.7v2.4h-5.7zM196.9 242.4h5.7v2.4h-5.7zM208.3 242.4h5.8v2.4h-5.8zM437.7 242.4h5.7v2.4h-5.7zM437.7 240h5.7v2.4h-5.7zM517.9 240h5.8v2.4h-5.8zM231.3 244.8h5.7v2.4h-5.7zM271.4 244.8h5.7v2.4h-5.7zM237 247.2h5.7v2.4h-5.7zM431.9 247.2h5.8v2.4h-5.8zM529.4 247.2h5.7v2.4h-5.7zM357.4 271.2h5.7v2.4h-5.7zM334.5 268.8h11.4v2.4h-11.4zM546.6 268.8h5.7v2.4h-5.7zM454.9 266.4h5.7v2.4h-5.7zM259.9 264h5.8v2.4h-5.8zM305.8 264h5.7v2.4h-5.7zM409 264h5.7v2.4h-5.7zM466.3 264h5.8v2.4h-5.8zM254.2 261.6h5.7v2.4h-5.7zM300.1 261.6h5.7v2.4h-5.7zM483.5 261.6h11.5v2.4h-11.5zM254.2 259.2h5.7v2.4h-5.7zM242.7 254.4h5.8v2.4h-5.8zM535.1 254.4h5.8v2.4h-5.8zM271.4 278.4h5.7v2.4h-5.7zM431.9 278.4h5.8v2.4h-5.8zM386.1 276h5.7v2.4h-5.7zM414.7 285.6h5.8v2.4h-5.8zM420.5 283.2h5.7v2.4h-5.7zM294.3 290.4h5.8v2.4h-5.8zM581 290.4h5.7v2.4h-5.7zM409 292.8h5.7v2.4h-5.7zM311.5 297.6h17.2v2.4h-17.2zM397.5 297.6h5.8v2.4h-5.8zM592.5 297.6h5.7v2.4h-5.7zM340.2 300h5.7v2.4h-5.7zM357.4 300h5.7v2.4h-5.7zM363.1 302.4h17.2v2.4h-17.2zM558.1 302.4h5.7v2.4h-5.7zM592.5 302.4h5.7v2.4h-5.7zM741.5 307.2h5.8v2.4h-5.8zM747.3 304.8h5.7v2.4h-5.7zM563.8 309.6h5.7v2.4h-5.7zM735.8 309.6h5.7v2.4h-5.7zM569.5 314.4h5.8v2.4h-5.8zM724.3 314.4h5.8v2.4h-5.8zM609.7 316.8h5.7v2.4h-5.7zM718.6 316.8h5.7v2.4h-5.7zM621.1 324h5.8v2.4h-5.8zM575.3 319.2h5.7v2.4h-5.7zM707.1 319.2h5.8v2.4h-5.8zM586.7 326.4h5.8v2.4h-5.8zM598.2 331.2h5.7v2.4h-5.7zM626.9 331.2h5.7v2.4h-5.7zM626.9 328.8h5.7v2.4h-5.7zM598.2 333.6h5.7v2.4h-5.7zM735.8 333.6h5.7v2.4h-5.7zM649.8 338.4h5.7v2.4h-5.7zM615.4 343.2h5.7v2.4h-5.7z"/><path fill="#95d840" d="M179.7 237.6h5.7v2.4h-5.7zM449.1 232.8h5.8v2.4h-5.8zM454.9 230.4h5.7v2.4h-5.7zM162.5 228h5.7v2.4h-5.7zM460.6 228h5.7v2.4h-5.7zM500.7 228h5.8v2.4h-5.8zM248.5 225.6h5.7v2.4h-5.7zM242.7 220.8h5.8v2.4h-5.8zM472.1 220.8h5.7v2.4h-5.7zM495 220.8h5.7v2.4h-5.7zM477.8 218.4h5.7v2.4h-5.7zM495 218.4h5.7v2.4h-5.7zM179.7 208.8h17.2v2.4h-17.2zM202.6 242.4h5.7v2.4h-5.7zM179.7 240h17.2v2.4h-17.2zM437.7 244.8h5.7v2.4h-5.7zM523.7 244.8h5.7v2.4h-5.7zM477.8 247.2h5.7v2.4h-5.7zM265.7 271.2h5.7v2.4h-5.7zM351.7 271.2h5.7v2.4h-5.7zM328.7 268.8h5.8v2.4h-5.8zM345.9 268.8h11.5v2.4h-11.5zM420.5 256.8h5.7v2.4h-5.7zM248.5 252h5.7v2.4h-5.7zM426.2 252h5.7v2.4h-5.7zM248.5 249.6h5.7v2.4h-5.7zM426.2 278.4h5.7v2.4h-5.7zM271.4 273.6h11.5v2.4h-11.5zM368.9 273.6h5.7v2.4h-5.7zM391.8 273.6h5.7v2.4h-5.7zM294.3 283.2h5.8v2.4h-5.8zM277.1 280.8h5.8v2.4h-5.8zM420.5 280.8h5.7v2.4h-5.7zM409 290.4h5.7v2.4h-5.7zM294.3 288h5.8v2.4h-5.8zM300.1 295.2h5.7v2.4h-5.7zM340.2 295.2h11.5v2.4h-11.5zM403.3 295.2h5.7v2.4h-5.7zM546.6 295.2h5.7v2.4h-5.7zM575.3 295.2h5.7v2.4h-5.7zM328.7 297.6h5.8v2.4h-5.8zM351.7 297.6h5.7v2.4h-5.7zM363.1 300h5.8v2.4h-5.8zM397.5 300h5.8v2.4h-5.8zM552.3 300h5.8v2.4h-5.8zM592.5 300h5.7v2.4h-5.7zM753 304.8h3v2.4h-3zM563.8 312h5.7v2.4h-5.7zM609.7 314.4h5.7v2.4h-5.7zM581 321.6h5.7v2.4h-5.7zM678.5 333.6h5.7v2.4h-5.7zM661.3 338.4h5.7v2.4h-5.7zM718.6 338.4h5.7v2.4h-5.7zM707.1 345.6h5.8v2.4h-5.8zM632.6 355.2h5.7v2.4h-5.7z"/><path fill="#8bd646" d="M185.4 237.6h5.7v2.4h-5.7zM512.2 237.6h5.7v2.4h-5.7zM506.5 232.8h5.7v2.4h-5.7zM173.9 230.4h5.8v2.4h-5.8zM254.2 230.4h5.7v2.4h-5.7zM500.7 230.4h5.8v2.4h-5.8zM162.5 225.6h5.7v2.4h-5.7zM466.3 225.6h5.8v2.4h-5.8zM495 225.6h5.7v2.4h-5.7zM466.3 223.2h5.8v2.4h-5.8zM483.5 218.4h5.8v2.4h-5.8zM196.9 211.2h5.7v2.4h-5.7zM242.7 242.4h5.8v2.4h-5.8zM196.9 240h5.7v2.4h-5.7zM483.5 247.2h5.8v2.4h-5.8zM449.1 271.2h5.8v2.4h-5.8zM546.6 271.2h5.7v2.4h-5.7zM265.7 268.8h5.7v2.4h-5.7zM323 268.8h5.7v2.4h-5.7zM403.3 268.8h5.7v2.4h-5.7zM495 264h5.7v2.4h-5.7zM540.9 264h5.7v2.4h-5.7zM477.8 261.6h5.7v2.4h-5.7zM254.2 256.8h5.7v2.4h-5.7zM529.4 252h5.7v2.4h-5.7zM277.1 249.6h5.8v2.4h-5.8zM277.1 278.4h5.8v2.4h-5.8zM529.4 278.4h5.7v2.4h-5.7zM380.3 276h5.8v2.4h-5.8zM426.2 276h11.5v2.4h-11.5zM443.4 276h5.7v2.4h-5.7zM552.3 276h5.8v2.4h-5.8zM443.4 273.6h5.7v2.4h-5.7zM282.9 285.6h5.7v2.4h-5.7zM563.8 285.6h5.7v2.4h-5.7zM535.1 280.8h5.8v2.4h-5.8zM300.1 290.4h5.7v2.4h-5.7zM409 288h5.7v2.4h-5.7zM540.9 288h5.7v2.4h-5.7zM569.5 288h5.8v2.4h-5.8zM334.5 295.2h5.7v2.4h-5.7zM351.7 295.2h5.7v2.4h-5.7zM305.8 292.8h5.7v2.4h-5.7zM334.5 297.6h17.2v2.4h-17.2zM357.4 297.6h5.7v2.4h-5.7zM586.7 297.6h5.8v2.4h-5.8zM563.8 307.2h5.7v2.4h-5.7zM603.9 307.2h5.8v2.4h-5.8zM558.1 304.8h5.7v2.4h-5.7zM592.5 304.8h5.7v2.4h-5.7zM581 316.8h5.7v2.4h-5.7zM586.7 324h5.8v2.4h-5.8zM615.4 321.6h5.7v2.4h-5.7zM615.4 319.2h5.7v2.4h-5.7zM712.9 319.2h5.7v2.4h-5.7zM695.7 328.8h5.7v2.4h-5.7zM603.9 333.6h5.8v2.4h-5.8zM632.6 333.6h5.7v2.4h-5.7zM632.6 336h5.7v2.4h-5.7zM672.7 336h5.8v2.4h-5.8zM644.1 338.4h5.7v2.4h-5.7zM621.1 348h5.8v2.4h-5.8zM638.3 357.6h5.8v2.4h-5.8z"/><path fill="#84d44b" d="M191.1 237.6h34.4v2.4h-34.4zM225.5 235.2h5.8v2.4h-5.8zM173.9 232.8h5.8v2.4h-5.8zM168.2 228h5.7v2.4h-5.7zM477.8 220.8h17.2v2.4h-17.2zM489.3 218.4h5.7v2.4h-5.7zM168.2 201.6h5.7v2.4h-5.7zM151 196.8h5.7v2.4h-5.7zM265.7 242.4h5.7v2.4h-5.7zM443.4 242.4h5.7v2.4h-5.7zM517.9 242.4h5.8v2.4h-5.8zM202.6 240h5.7v2.4h-5.7zM443.4 240h5.7v2.4h-5.7zM512.2 240h5.7v2.4h-5.7zM237 244.8h5.7v2.4h-5.7zM242.7 247.2h5.8v2.4h-5.8zM472.1 247.2h5.7v2.4h-5.7zM345.9 271.2h5.8v2.4h-5.8zM305.8 266.4h5.7v2.4h-5.7zM500.7 266.4h5.8v2.4h-5.8zM460.6 264h5.7v2.4h-5.7zM540.9 261.6h5.7v2.4h-5.7zM483.5 259.2h5.8v2.4h-5.8zM288.6 256.8h5.7v2.4h-5.7zM483.5 256.8h5.8v2.4h-5.8zM535.1 256.8h5.8v2.4h-5.8zM477.8 252h5.7v2.4h-5.7zM254.2 249.6h5.7v2.4h-5.7zM431.9 249.6h5.8v2.4h-5.8zM529.4 249.6h5.7v2.4h-5.7zM271.4 276h5.7v2.4h-5.7zM282.9 273.6h5.7v2.4h-5.7zM363.1 273.6h5.8v2.4h-5.8zM431.9 273.6h11.5v2.4h-11.5zM546.6 273.6h5.7v2.4h-5.7zM300.1 283.2h5.7v2.4h-5.7zM558.1 283.2h5.7v2.4h-5.7zM558.1 280.8h5.7v2.4h-5.7zM575.3 290.4h5.7v2.4h-5.7zM328.7 295.2h5.8v2.4h-5.8zM357.4 295.2h5.7v2.4h-5.7zM552.3 295.2h5.8v2.4h-5.8zM575.3 292.8h5.7v2.4h-5.7zM363.1 297.6h5.8v2.4h-5.8zM391.8 297.6h5.7v2.4h-5.7zM581 297.6h5.7v2.4h-5.7zM368.9 300h5.7v2.4h-5.7zM586.7 302.4h5.8v2.4h-5.8zM569.5 309.6h5.8v2.4h-5.8zM598.2 309.6h5.7v2.4h-5.7zM603.9 312h5.8v2.4h-5.8zM730.1 314.4h5.7v2.4h-5.7zM707.1 324h5.8v2.4h-5.8zM701.4 326.4h5.7v2.4h-5.7zM747.3 326.4h5.7v2.4h-5.7zM689.9 331.2h5.8v2.4h-5.8zM598.2 328.8h5.7v2.4h-5.7zM724.3 336h5.8v2.4h-5.8zM667 357.6h5.7v2.4h-5.7z"/><path fill="#7ad151" d="M225.5 237.6h5.8v2.4h-5.8zM179.7 235.2h5.7v2.4h-5.7zM208.3 235.2h17.2v2.4h-17.2zM231.3 235.2h5.7v2.4h-5.7zM506.5 235.2h5.7v2.4h-5.7zM466.3 228h5.8v2.4h-5.8zM168.2 225.6h11.5v2.4h-11.5zM151 223.2h5.7v2.4h-5.7zM495 223.2h5.7v2.4h-5.7zM151 220.8h5.7v2.4h-5.7zM151 218.4h5.7v2.4h-5.7zM191.1 211.2h5.8v2.4h-5.8zM208.3 240h5.8v2.4h-5.8zM219.8 240h11.5v2.4h-11.5zM489.3 247.2h5.7v2.4h-5.7zM523.7 247.2h5.7v2.4h-5.7zM271.4 271.2h5.7v2.4h-5.7zM397.5 271.2h5.8v2.4h-5.8zM317.3 268.8h5.7v2.4h-5.7zM265.7 266.4h5.7v2.4h-5.7zM259.9 261.6h5.8v2.4h-5.8zM472.1 261.6h5.7v2.4h-5.7zM495 261.6h5.7v2.4h-5.7zM288.6 259.2h5.7v2.4h-5.7zM489.3 259.2h5.7v2.4h-5.7zM535.1 259.2h5.8v2.4h-5.8zM489.3 256.8h5.7v2.4h-5.7zM248.5 254.4h5.7v2.4h-5.7zM282.9 254.4h5.7v2.4h-5.7zM426.2 254.4h5.7v2.4h-5.7zM483.5 252h5.8v2.4h-5.8zM552.3 278.4h5.8v2.4h-5.8zM420.5 276h5.7v2.4h-5.7zM437.7 276h5.7v2.4h-5.7zM529.4 273.6h5.7v2.4h-5.7zM409 285.6h5.7v2.4h-5.7zM414.7 283.2h5.8v2.4h-5.8zM540.9 283.2h5.7v2.4h-5.7zM282.9 280.8h5.7v2.4h-5.7zM305.8 290.4h5.7v2.4h-5.7zM317.3 290.4h5.7v2.4h-5.7zM546.6 290.4h5.7v2.4h-5.7zM300.1 288h5.7v2.4h-5.7zM323 295.2h5.7v2.4h-5.7zM363.1 295.2h5.8v2.4h-5.8zM397.5 295.2h5.8v2.4h-5.8zM345.9 292.8h11.5v2.4h-11.5zM368.9 297.6h5.7v2.4h-5.7zM552.3 297.6h5.8v2.4h-5.8zM391.8 300h5.7v2.4h-5.7zM586.7 300h5.8v2.4h-5.8zM735.8 312h5.7v2.4h-5.7zM592.5 324h5.7v2.4h-5.7zM586.7 321.6h5.8v2.4h-5.8zM592.5 326.4h5.7v2.4h-5.7zM603.9 331.2h5.8v2.4h-5.8zM621.1 328.8h5.8v2.4h-5.8zM609.7 338.4h5.7v2.4h-5.7zM684.2 352.8h5.7v2.4h-5.7z"/><path fill="#73d056" d="M449.1 237.6h5.8v2.4h-5.8zM506.5 237.6h5.7v2.4h-5.7zM185.4 235.2h5.7v2.4h-5.7zM202.6 235.2h5.7v2.4h-5.7zM237 235.2h5.7v2.4h-5.7zM259.9 235.2h5.8v2.4h-5.8zM449.1 235.2h5.8v2.4h-5.8zM460.6 230.4h5.7v2.4h-5.7zM173.9 228h5.8v2.4h-5.8zM495 228h5.7v2.4h-5.7zM472.1 223.2h5.7v2.4h-5.7zM248.5 242.4h5.7v2.4h-5.7zM214.1 240h5.7v2.4h-5.7zM231.3 240h5.7v2.4h-5.7zM477.8 240h5.7v2.4h-5.7zM271.4 247.2h5.7v2.4h-5.7zM466.3 247.2h5.8v2.4h-5.8zM277.1 271.2h5.8v2.4h-5.8zM517.9 271.2h17.2v2.4h-17.2zM437.7 268.8h5.7v2.4h-5.7zM437.7 266.4h11.4v2.4h-11.4zM265.7 264h5.7v2.4h-5.7zM300.1 264h5.7v2.4h-5.7zM517.9 264h5.8v2.4h-5.8zM259.9 259.2h5.8v2.4h-5.8zM477.8 259.2h5.7v2.4h-5.7zM443.4 256.8h11.5v2.4h-11.5zM477.8 256.8h5.7v2.4h-5.7zM254.2 252h5.7v2.4h-5.7zM472.1 252h5.7v2.4h-5.7zM500.7 252h5.8v2.4h-5.8zM477.8 249.6h5.7v2.4h-5.7zM282.9 278.4h5.7v2.4h-5.7zM420.5 278.4h5.7v2.4h-5.7zM535.1 278.4h5.8v2.4h-5.8zM374.6 276h5.7v2.4h-5.7zM517.9 273.6h11.5v2.4h-11.5zM288.6 285.6h5.7v2.4h-5.7zM540.9 285.6h5.7v2.4h-5.7zM311.5 290.4h5.8v2.4h-5.8zM323 290.4h5.7v2.4h-5.7zM403.3 290.4h5.7v2.4h-5.7zM305.8 295.2h5.7v2.4h-5.7zM317.3 295.2h5.7v2.4h-5.7zM368.9 295.2h5.7v2.4h-5.7zM311.5 292.8h5.8v2.4h-5.8zM403.3 292.8h5.7v2.4h-5.7zM546.6 292.8h5.7v2.4h-5.7zM374.6 297.6h5.7v2.4h-5.7zM374.6 300h17.2v2.4h-17.2zM558.1 300h5.7v2.4h-5.7zM563.8 302.4h5.7v2.4h-5.7zM569.5 307.2h5.8v2.4h-5.8zM598.2 307.2h5.7v2.4h-5.7zM747.3 307.2h5.7v2.4h-5.7zM563.8 304.8h5.7v2.4h-5.7zM741.5 309.6h5.8v2.4h-5.8zM569.5 312h5.8v2.4h-5.8zM575.3 314.4h5.7v2.4h-5.7zM603.9 314.4h5.8v2.4h-5.8zM615.4 324h5.7v2.4h-5.7zM712.9 321.6h5.7v2.4h-5.7zM581 319.2h5.7v2.4h-5.7zM684.2 333.6h5.7v2.4h-5.7zM621.1 345.6h5.8v2.4h-5.8zM689.9 350.4h5.8v2.4h-5.8zM672.7 355.2h5.8v2.4h-5.8z"/><path fill="#69cd5b" d="M231.3 237.6h5.7v2.4h-5.7zM259.9 237.6h5.8v2.4h-5.8zM191.1 235.2h11.5v2.4h-11.5zM454.9 232.8h5.7v2.4h-5.7zM179.7 230.4h5.7v2.4h-5.7zM472.1 225.6h5.7v2.4h-5.7zM489.3 225.6h5.7v2.4h-5.7zM156.7 223.2h5.8v2.4h-5.8zM156.7 218.4h11.5v2.4h-11.5zM483.5 240h5.8v2.4h-5.8zM242.7 244.8h5.8v2.4h-5.8zM472.1 244.8h11.4v2.4h-11.4zM517.9 244.8h5.8v2.4h-5.8zM248.5 247.2h5.7v2.4h-5.7zM437.7 247.2h5.7v2.4h-5.7zM340.2 271.2h5.7v2.4h-5.7zM311.5 268.8h5.8v2.4h-5.8zM431.9 268.8h5.8v2.4h-5.8zM449.1 268.8h5.8v2.4h-5.8zM506.5 268.8h5.7v2.4h-5.7zM409 266.4h5.7v2.4h-5.7zM449.1 266.4h5.8v2.4h-5.8zM512.2 264h5.7v2.4h-5.7zM523.7 264h5.7v2.4h-5.7zM294.3 261.6h5.8v2.4h-5.8zM414.7 261.6h5.8v2.4h-5.8zM466.3 261.6h5.8v2.4h-5.8zM454.9 252h5.7v2.4h-5.7zM489.3 252h11.4v2.4h-11.4zM483.5 249.6h5.8v2.4h-5.8zM277.1 276h5.8v2.4h-5.8zM391.8 276h5.7v2.4h-5.7zM529.4 276h5.7v2.4h-5.7zM288.6 273.6h5.7v2.4h-5.7zM357.4 273.6h5.7v2.4h-5.7zM426.2 273.6h5.7v2.4h-5.7zM535.1 273.6h5.8v2.4h-5.8zM294.3 285.6h5.8v2.4h-5.8zM414.7 280.8h5.8v2.4h-5.8zM328.7 290.4h5.8v2.4h-5.8zM569.5 290.4h5.8v2.4h-5.8zM403.3 288h5.7v2.4h-5.7zM563.8 288h5.7v2.4h-5.7zM311.5 295.2h5.8v2.4h-5.8zM374.6 295.2h5.7v2.4h-5.7zM340.2 292.8h5.7v2.4h-5.7zM357.4 292.8h5.7v2.4h-5.7zM380.3 297.6h11.5v2.4h-11.5zM586.7 304.8h5.8v2.4h-5.8zM586.7 316.8h5.8v2.4h-5.8zM592.5 321.6h5.7v2.4h-5.7zM638.3 338.4h5.8v2.4h-5.8zM667 338.4h5.7v2.4h-5.7z"/><path fill="#63cb5f" d="M179.7 232.8h22.9v2.4h-22.9zM225.5 232.8h5.8v2.4h-5.8zM500.7 232.8h5.8v2.4h-5.8zM185.4 230.4h5.7v2.4h-5.7zM162.5 223.2h5.7v2.4h-5.7zM489.3 223.2h5.7v2.4h-5.7zM237 218.4h5.7v2.4h-5.7zM202.6 213.6h28.7v2.4h-28.7zM185.4 211.2h5.7v2.4h-5.7zM168.2 204h5.7v2.4h-5.7zM156.7 199.2h5.8v2.4h-5.8zM237 240h5.7v2.4h-5.7zM466.3 244.8h5.8v2.4h-5.8zM495 247.2h5.7v2.4h-5.7zM431.9 271.2h11.5v2.4h-11.5zM271.4 268.8h5.7v2.4h-5.7zM443.4 268.8h5.7v2.4h-5.7zM431.9 266.4h5.8v2.4h-5.8zM540.9 266.4h5.7v2.4h-5.7zM460.6 261.6h5.7v2.4h-5.7zM472.1 259.2h5.7v2.4h-5.7zM512.2 259.2h5.7v2.4h-5.7zM259.9 256.8h5.8v2.4h-5.8zM495 256.8h5.7v2.4h-5.7zM529.4 254.4h5.7v2.4h-5.7zM449.1 252h5.8v2.4h-5.8zM466.3 252h5.8v2.4h-5.8zM506.5 252h5.7v2.4h-5.7zM259.9 249.6h5.8v2.4h-5.8zM472.1 249.6h5.7v2.4h-5.7zM523.7 249.6h5.7v2.4h-5.7zM386.1 278.4h5.7v2.4h-5.7zM523.7 276h5.7v2.4h-5.7zM535.1 276h5.8v2.4h-5.8zM351.7 273.6h5.7v2.4h-5.7zM300.1 285.6h5.7v2.4h-5.7zM305.8 283.2h5.7v2.4h-5.7zM288.6 280.8h5.7v2.4h-5.7zM540.9 280.8h5.7v2.4h-5.7zM317.3 288h11.4v2.4h-11.4zM546.6 288h5.7v2.4h-5.7zM380.3 295.2h5.8v2.4h-5.8zM391.8 295.2h5.7v2.4h-5.7zM317.3 292.8h5.7v2.4h-5.7zM397.5 292.8h5.8v2.4h-5.8zM575.3 297.6h5.7v2.4h-5.7zM581 300h5.7v2.4h-5.7zM724.3 316.8h5.8v2.4h-5.8zM598.2 326.4h5.7v2.4h-5.7zM741.5 328.8h5.8v2.4h-5.8zM655.5 340.8h5.8v2.4h-5.8z"/><path fill="#5cc863" d="M237 237.6h5.7v2.4h-5.7zM202.6 232.8h22.9v2.4h-22.9zM231.3 232.8h5.7v2.4h-5.7zM191.1 230.4h5.8v2.4h-5.8zM248.5 228h5.7v2.4h-5.7zM168.2 223.2h5.7v2.4h-5.7zM477.8 223.2h5.7v2.4h-5.7zM156.7 220.8h5.8v2.4h-5.8zM168.2 218.4h5.7v2.4h-5.7zM151 216h5.7v2.4h-5.7zM196.9 213.6h5.7v2.4h-5.7zM173.9 206.4h5.8v2.4h-5.8zM472.1 240h5.7v2.4h-5.7zM489.3 240h5.7v2.4h-5.7zM460.6 247.2h5.7v2.4h-5.7zM282.9 271.2h5.7v2.4h-5.7zM323 271.2h17.2v2.4h-17.2zM443.4 271.2h5.7v2.4h-5.7zM535.1 271.2h5.8v2.4h-5.8zM512.2 268.8h17.2v2.4h-17.2zM500.7 264h5.8v2.4h-5.8zM443.4 261.6h5.7v2.4h-5.7zM495 259.2h5.7v2.4h-5.7zM506.5 259.2h5.7v2.4h-5.7zM517.9 259.2h5.8v2.4h-5.8zM426.2 256.8h5.7v2.4h-5.7zM454.9 256.8h5.7v2.4h-5.7zM472.1 256.8h5.7v2.4h-5.7zM500.7 256.8h11.5v2.4h-11.5zM254.2 254.4h5.7v2.4h-5.7zM431.9 252h5.8v2.4h-5.8zM460.6 252h5.7v2.4h-5.7zM454.9 249.6h5.7v2.4h-5.7zM489.3 249.6h5.7v2.4h-5.7zM288.6 278.4h5.7v2.4h-5.7zM414.7 276h5.8v2.4h-5.8zM403.3 285.6h5.7v2.4h-5.7zM552.3 290.4h5.8v2.4h-5.8zM305.8 288h11.5v2.4h-11.5zM328.7 288h5.8v2.4h-5.8zM386.1 295.2h5.7v2.4h-5.7zM558.1 295.2h5.7v2.4h-5.7zM334.5 292.8h5.7v2.4h-5.7zM363.1 292.8h5.8v2.4h-5.8zM391.8 292.8h5.7v2.4h-5.7zM558.1 297.6h5.7v2.4h-5.7zM592.5 307.2h5.7v2.4h-5.7zM575.3 309.6h5.7v2.4h-5.7zM575.3 312h5.7v2.4h-5.7zM603.9 316.8h5.8v2.4h-5.8zM609.7 319.2h5.7v2.4h-5.7zM615.4 326.4h5.7v2.4h-5.7zM621.1 331.2h5.8v2.4h-5.8zM609.7 336h5.7v2.4h-5.7zM678.5 336h5.7v2.4h-5.7zM615.4 340.8h5.7v2.4h-5.7zM649.8 340.8h5.7v2.4h-5.7zM644.1 357.6h5.7v2.4h-5.7z"/><path fill="#54c568" d="M477.8 237.6h5.7v2.4h-5.7zM237 232.8h5.7v2.4h-5.7zM254.2 232.8h5.7v2.4h-5.7zM472.1 228h5.7v2.4h-5.7zM483.5 223.2h5.8v2.4h-5.8zM156.7 216h5.8v2.4h-5.8zM231.3 216h5.7v2.4h-5.7zM191.1 213.6h5.8v2.4h-5.8zM162.5 201.6h5.7v2.4h-5.7zM466.3 242.4h17.2v2.4h-17.2zM512.2 242.4h5.7v2.4h-5.7zM248.5 244.8h5.7v2.4h-5.7zM443.4 244.8h5.7v2.4h-5.7zM460.6 244.8h5.7v2.4h-5.7zM483.5 244.8h5.8v2.4h-5.8zM254.2 247.2h5.7v2.4h-5.7zM517.9 247.2h5.8v2.4h-5.8zM288.6 271.2h5.7v2.4h-5.7zM426.2 271.2h5.7v2.4h-5.7zM271.4 266.4h5.7v2.4h-5.7zM517.9 266.4h5.8v2.4h-5.8zM506.5 264h5.7v2.4h-5.7zM265.7 261.6h5.7v2.4h-5.7zM500.7 261.6h5.8v2.4h-5.8zM420.5 259.2h5.7v2.4h-5.7zM466.3 259.2h5.8v2.4h-5.8zM466.3 256.8h5.8v2.4h-5.8zM512.2 256.8h5.7v2.4h-5.7zM460.6 249.6h11.5v2.4h-11.5zM495 249.6h11.5v2.4h-11.5zM380.3 278.4h5.8v2.4h-5.8zM414.7 278.4h5.8v2.4h-5.8zM368.9 276h5.7v2.4h-5.7zM345.9 273.6h5.8v2.4h-5.8zM305.8 285.6h5.7v2.4h-5.7zM311.5 283.2h5.8v2.4h-5.8zM409 283.2h5.7v2.4h-5.7zM294.3 280.8h5.8v2.4h-5.8zM334.5 290.4h5.7v2.4h-5.7zM397.5 290.4h5.8v2.4h-5.8zM334.5 288h5.7v2.4h-5.7zM569.5 295.2h5.8v2.4h-5.8zM323 292.8h11.5v2.4h-11.5zM380.3 292.8h11.5v2.4h-11.5zM569.5 292.8h5.8v2.4h-5.8zM581 302.4h5.7v2.4h-5.7zM569.5 304.8h5.8v2.4h-5.8zM598.2 312h5.7v2.4h-5.7zM730.1 333.6h5.7v2.4h-5.7zM644.1 340.8h5.7v2.4h-5.7zM695.7 348h5.7v2.4h-5.7zM626.9 350.4h5.7v2.4h-5.7z"/><path fill="#4ec36b" d="M483.5 237.6h5.8v2.4h-5.8zM242.7 235.2h5.8v2.4h-5.8zM495 230.4h5.7v2.4h-5.7zM225.5 228h5.8v2.4h-5.8zM179.7 225.6h5.7v2.4h-5.7zM483.5 225.6h5.8v2.4h-5.8zM173.9 223.2h5.8v2.4h-5.8zM162.5 220.8h5.7v2.4h-5.7zM151 213.6h5.7v2.4h-5.7zM185.4 213.6h5.7v2.4h-5.7zM179.7 211.2h5.7v2.4h-5.7zM483.5 242.4h5.8v2.4h-5.8zM242.7 240h5.8v2.4h-5.8zM449.1 240h5.8v2.4h-5.8zM506.5 240h5.7v2.4h-5.7zM500.7 247.2h5.8v2.4h-5.8zM317.3 271.2h5.7v2.4h-5.7zM426.2 268.8h5.7v2.4h-5.7zM529.4 268.8h5.7v2.4h-5.7zM506.5 266.4h11.4v2.4h-11.4zM523.7 266.4h5.7v2.4h-5.7zM271.4 264h5.7v2.4h-5.7zM449.1 261.6h11.5v2.4h-11.5zM506.5 261.6h11.4v2.4h-11.4zM443.4 259.2h11.5v2.4h-11.5zM460.6 259.2h5.7v2.4h-5.7zM500.7 259.2h5.8v2.4h-5.8zM437.7 256.8h5.7v2.4h-5.7zM460.6 256.8h5.7v2.4h-5.7zM431.9 254.4h5.8v2.4h-5.8zM477.8 254.4h5.7v2.4h-5.7zM523.7 252h5.7v2.4h-5.7zM437.7 249.6h5.7v2.4h-5.7zM294.3 278.4h5.8v2.4h-5.8zM282.9 276h5.7v2.4h-5.7zM294.3 273.6h5.8v2.4h-5.8zM397.5 273.6h5.8v2.4h-5.8zM420.5 273.6h5.7v2.4h-5.7zM546.6 285.6h5.7v2.4h-5.7zM340.2 288h5.7v2.4h-5.7zM397.5 288h5.8v2.4h-5.8zM368.9 292.8h11.4v2.4h-11.4zM753 307.2h3v2.4h-3zM592.5 309.6h5.7v2.4h-5.7zM581 314.4h5.7v2.4h-5.7zM735.8 314.4h5.7v2.4h-5.7zM598.2 324h5.7v2.4h-5.7zM586.7 319.2h5.8v2.4h-5.8zM718.6 319.2h5.7v2.4h-5.7zM626.9 333.6h5.7v2.4h-5.7zM689.9 333.6h5.8v2.4h-5.8zM707.1 343.2h5.8v2.4h-5.8zM661.3 357.6h5.7v2.4h-5.7z"/><path fill="#46c06f" d="M242.7 237.6h5.8v2.4h-5.8zM196.9 230.4h5.7v2.4h-5.7zM179.7 228h5.7v2.4h-5.7zM219.8 228h5.7v2.4h-5.7zM489.3 228h5.7v2.4h-5.7zM477.8 225.6h5.7v2.4h-5.7zM242.7 223.2h5.8v2.4h-5.8zM162.5 216h5.7v2.4h-5.7zM449.1 242.4h5.8v2.4h-5.8zM489.3 242.4h5.7v2.4h-5.7zM489.3 244.8h5.7v2.4h-5.7zM277.1 268.8h5.8v2.4h-5.8zM305.8 268.8h5.7v2.4h-5.7zM454.9 264h5.7v2.4h-5.7zM437.7 261.6h5.7v2.4h-5.7zM265.7 259.2h5.7v2.4h-5.7zM431.9 256.8h5.8v2.4h-5.8zM449.1 254.4h5.8v2.4h-5.8zM472.1 254.4h5.7v2.4h-5.7zM483.5 254.4h5.8v2.4h-5.8zM259.9 252h5.8v2.4h-5.8zM277.1 252h5.8v2.4h-5.8zM540.9 278.4h5.7v2.4h-5.7zM311.5 285.6h5.8v2.4h-5.8zM340.2 283.2h17.2v2.4h-17.2zM357.4 290.4h17.2v2.4h-17.2zM368.9 288h5.7v2.4h-5.7zM552.3 292.8h5.8v2.4h-5.8zM563.8 300h5.7v2.4h-5.7zM695.7 331.2h5.7v2.4h-5.7zM735.8 331.2h5.7v2.4h-5.7zM626.9 336h5.7v2.4h-5.7zM638.3 340.8h5.8v2.4h-5.8zM661.3 340.8h5.7v2.4h-5.7zM667 355.2h5.7v2.4h-5.7z"/><path fill="#40bd72" d="M460.6 232.8h5.7v2.4h-5.7zM219.8 230.4h11.5v2.4h-11.5zM466.3 230.4h5.8v2.4h-5.8zM214.1 228h5.7v2.4h-5.7zM477.8 228h11.5v2.4h-11.5zM185.4 225.6h5.7v2.4h-5.7zM168.2 220.8h5.7v2.4h-5.7zM179.7 213.6h5.7v2.4h-5.7zM151 211.2h5.7v2.4h-5.7zM460.6 242.4h5.7v2.4h-5.7zM254.2 244.8h5.7v2.4h-5.7zM300.1 266.4h5.7v2.4h-5.7zM529.4 266.4h5.7v2.4h-5.7zM529.4 264h5.7v2.4h-5.7zM271.4 261.6h5.7v2.4h-5.7zM517.9 261.6h5.8v2.4h-5.8zM454.9 259.2h5.7v2.4h-5.7zM259.9 254.4h5.8v2.4h-5.8zM437.7 254.4h5.7v2.4h-5.7zM437.7 252h11.4v2.4h-11.4zM374.6 278.4h5.7v2.4h-5.7zM340.2 273.6h5.7v2.4h-5.7zM540.9 273.6h5.7v2.4h-5.7zM340.2 285.6h11.5v2.4h-11.5zM558.1 285.6h5.7v2.4h-5.7zM317.3 283.2h5.7v2.4h-5.7zM334.5 283.2h5.7v2.4h-5.7zM300.1 280.8h5.7v2.4h-5.7zM409 280.8h5.7v2.4h-5.7zM340.2 290.4h5.7v2.4h-5.7zM351.7 290.4h5.7v2.4h-5.7zM374.6 290.4h5.7v2.4h-5.7zM345.9 288h5.8v2.4h-5.8zM363.1 288h5.8v2.4h-5.8zM563.8 295.2h5.7v2.4h-5.7zM581 304.8h5.7v2.4h-5.7zM592.5 316.8h11.4v2.4h-11.4zM603.9 328.8h5.8v2.4h-5.8zM701.4 328.8h5.7v2.4h-5.7zM649.8 357.6h5.7v2.4h-5.7z"/><path fill="#3bbb75" d="M472.1 237.6h5.7v2.4h-5.7zM472.1 232.8h11.4v2.4h-11.4zM202.6 230.4h5.7v2.4h-5.7zM214.1 230.4h5.7v2.4h-5.7zM185.4 228h11.5v2.4h-11.5zM173.9 218.4h5.8v2.4h-5.8zM162.5 204h5.7v2.4h-5.7zM151 199.2h5.7v2.4h-5.7zM454.9 242.4h5.7v2.4h-5.7zM248.5 240h5.7v2.4h-5.7zM466.3 240h5.8v2.4h-5.8zM495 244.8h5.7v2.4h-5.7zM454.9 247.2h5.7v2.4h-5.7zM294.3 271.2h5.8v2.4h-5.8zM311.5 271.2h5.8v2.4h-5.8zM540.9 268.8h5.7v2.4h-5.7zM277.1 266.4h5.8v2.4h-5.8zM426.2 266.4h5.7v2.4h-5.7zM265.7 256.8h5.7v2.4h-5.7zM443.4 254.4h5.7v2.4h-5.7zM466.3 254.4h5.8v2.4h-5.8zM489.3 254.4h5.7v2.4h-5.7zM512.2 252h5.7v2.4h-5.7zM449.1 249.6h5.8v2.4h-5.8zM300.1 278.4h5.7v2.4h-5.7zM397.5 276h5.8v2.4h-5.8zM546.6 276h5.7v2.4h-5.7zM317.3 285.6h5.7v2.4h-5.7zM351.7 285.6h5.7v2.4h-5.7zM323 283.2h11.5v2.4h-11.5zM546.6 283.2h5.7v2.4h-5.7zM345.9 290.4h5.8v2.4h-5.8zM391.8 290.4h5.7v2.4h-5.7zM563.8 290.4h5.7v2.4h-5.7zM575.3 307.2h5.7v2.4h-5.7zM747.3 309.6h5.7v2.4h-5.7zM753 324h3v2.4h-3zM609.7 321.6h5.7v2.4h-5.7zM707.1 326.4h5.8v2.4h-5.8zM712.9 340.8h5.7v2.4h-5.7zM672.7 338.4h5.8v2.4h-5.8zM632.6 352.8h5.7v2.4h-5.7zM684.2 350.4h5.7v2.4h-5.7z"/><path fill="#35b779" d="M454.9 235.2h5.7v2.4h-5.7zM500.7 235.2h5.8v2.4h-5.8zM466.3 232.8h5.8v2.4h-5.8zM483.5 232.8h5.8v2.4h-5.8zM208.3 230.4h5.8v2.4h-5.8zM196.9 228h5.7v2.4h-5.7zM208.3 228h5.8v2.4h-5.8zM156.7 213.6h5.8v2.4h-5.8zM151 208.8h5.7v2.4h-5.7zM156.7 201.6h5.8v2.4h-5.8zM254.2 242.4h5.7v2.4h-5.7zM495 242.4h5.7v2.4h-5.7zM495 240h5.7v2.4h-5.7zM540.9 271.2h5.7v2.4h-5.7zM282.9 268.8h5.7v2.4h-5.7zM277.1 264h5.8v2.4h-5.8zM271.4 259.2h5.7v2.4h-5.7zM523.7 259.2h5.7v2.4h-5.7zM517.9 256.8h5.8v2.4h-5.8zM454.9 254.4h5.7v2.4h-5.7zM506.5 254.4h5.7v2.4h-5.7zM517.9 252h5.8v2.4h-5.8zM443.4 249.6h5.7v2.4h-5.7zM305.8 278.4h5.7v2.4h-5.7zM363.1 276h5.8v2.4h-5.8zM334.5 285.6h5.7v2.4h-5.7zM357.4 285.6h5.7v2.4h-5.7zM397.5 285.6h5.8v2.4h-5.8zM357.4 283.2h5.7v2.4h-5.7zM323 280.8h5.7v2.4h-5.7zM552.3 280.8h5.8v2.4h-5.8zM380.3 290.4h5.8v2.4h-5.8zM351.7 288h11.4v2.4h-11.4zM569.5 302.4h11.5v2.4h-11.5zM575.3 304.8h5.7v2.4h-5.7zM586.7 309.6h5.8v2.4h-5.8zM581 312h5.7v2.4h-5.7zM741.5 326.4h5.8v2.4h-5.8zM701.4 345.6h5.7v2.4h-5.7zM678.5 352.8h5.7v2.4h-5.7zM638.3 355.2h5.8v2.4h-5.8z"/><path fill="#31b57b" d="M489.3 237.6h5.7v2.4h-5.7zM231.3 230.4h5.7v2.4h-5.7zM202.6 228h5.7v2.4h-5.7zM231.3 228h5.7v2.4h-5.7zM191.1 225.6h5.8v2.4h-5.8zM173.9 220.8h5.8v2.4h-5.8zM173.9 208.8h5.8v2.4h-5.8zM168.2 206.4h5.7v2.4h-5.7zM454.9 240h5.7v2.4h-5.7zM265.7 244.8h5.7v2.4h-5.7zM454.9 244.8h5.7v2.4h-5.7zM512.2 244.8h5.7v2.4h-5.7zM403.3 271.2h5.7v2.4h-5.7zM420.5 271.2h5.7v2.4h-5.7zM409 268.8h5.7v2.4h-5.7zM294.3 264h5.8v2.4h-5.8zM414.7 264h5.8v2.4h-5.8zM437.7 264h5.7v2.4h-5.7zM535.1 264h5.8v2.4h-5.8zM529.4 259.2h5.7v2.4h-5.7zM529.4 256.8h5.7v2.4h-5.7zM460.6 254.4h5.7v2.4h-5.7zM500.7 254.4h5.8v2.4h-5.8zM512.2 254.4h5.7v2.4h-5.7zM523.7 254.4h5.7v2.4h-5.7zM271.4 249.6h5.7v2.4h-5.7zM506.5 249.6h5.7v2.4h-5.7zM288.6 276h5.7v2.4h-5.7zM540.9 276h5.7v2.4h-5.7zM323 285.6h11.5v2.4h-11.5zM363.1 285.6h5.8v2.4h-5.8zM403.3 283.2h5.7v2.4h-5.7zM305.8 280.8h5.7v2.4h-5.7zM317.3 280.8h5.7v2.4h-5.7zM328.7 280.8h5.8v2.4h-5.8zM569.5 297.6h5.8v2.4h-5.8zM586.7 307.2h5.8v2.4h-5.8zM581 309.6h5.7v2.4h-5.7zM730.1 316.8h5.7v2.4h-5.7zM712.9 324h5.7v2.4h-5.7zM695.7 333.6h5.7v2.4h-5.7zM684.2 336h5.7v2.4h-5.7zM712.9 338.4h5.7v2.4h-5.7zM621.1 343.2h5.8v2.4h-5.8zM655.5 357.6h5.8v2.4h-5.8z"/><path fill="#2cb17e" d="M489.3 232.8h11.4v2.4h-11.4zM472.1 230.4h5.7v2.4h-5.7zM489.3 230.4h5.7v2.4h-5.7zM231.3 218.4h5.7v2.4h-5.7zM168.2 216h5.7v2.4h-5.7zM156.7 211.2h5.8v2.4h-5.8zM156.7 204h5.8v2.4h-5.8zM151 201.6h5.7v2.4h-5.7zM460.6 240h5.7v2.4h-5.7zM500.7 240h5.8v2.4h-5.8zM449.1 244.8h5.8v2.4h-5.8zM512.2 247.2h5.7v2.4h-5.7zM282.9 266.4h5.7v2.4h-5.7zM414.7 266.4h5.8v2.4h-5.8zM495 254.4h5.7v2.4h-5.7zM311.5 278.4h5.8v2.4h-5.8zM391.8 278.4h5.7v2.4h-5.7zM403.3 276h5.7v2.4h-5.7zM334.5 273.6h5.7v2.4h-5.7zM552.3 283.2h5.8v2.4h-5.8zM311.5 280.8h5.8v2.4h-5.8zM386.1 290.4h5.7v2.4h-5.7zM374.6 288h5.7v2.4h-5.7zM552.3 288h5.8v2.4h-5.8zM563.8 297.6h5.7v2.4h-5.7zM575.3 300h5.7v2.4h-5.7zM581 307.2h5.7v2.4h-5.7zM753 309.6h3v2.4h-3zM598.2 314.4h5.7v2.4h-5.7zM724.3 333.6h5.8v2.4h-5.8zM718.6 336h5.7v2.4h-5.7zM655.5 343.2h5.8v2.4h-5.8zM626.9 345.6h5.7v2.4h-5.7z"/><path fill="#28ae80" d="M454.9 237.6h5.7v2.4h-5.7zM500.7 237.6h5.8v2.4h-5.8zM477.8 235.2h11.5v2.4h-11.5zM477.8 230.4h11.5v2.4h-11.5zM219.8 218.4h5.7v2.4h-5.7zM168.2 208.8h5.7v2.4h-5.7zM151 206.4h5.7v2.4h-5.7zM162.5 206.4h5.7v2.4h-5.7zM506.5 247.2h5.7v2.4h-5.7zM535.1 268.8h5.8v2.4h-5.8zM420.5 266.4h5.7v2.4h-5.7zM443.4 264h5.7v2.4h-5.7zM523.7 261.6h5.7v2.4h-5.7zM437.7 259.2h5.7v2.4h-5.7zM282.9 256.8h5.7v2.4h-5.7zM523.7 256.8h5.7v2.4h-5.7zM517.9 249.6h5.8v2.4h-5.8zM368.9 278.4h5.7v2.4h-5.7zM546.6 278.4h5.7v2.4h-5.7zM409 276h5.7v2.4h-5.7zM558.1 290.4h5.7v2.4h-5.7zM558.1 288h5.7v2.4h-5.7zM569.5 300h5.8v2.4h-5.8zM592.5 312h5.7v2.4h-5.7zM598.2 321.6h5.7v2.4h-5.7zM609.7 333.6h5.7v2.4h-5.7zM667 340.8h5.7v2.4h-5.7zM661.3 343.2h5.7v2.4h-5.7zM644.1 355.2h5.7v2.4h-5.7zM661.3 355.2h5.7v2.4h-5.7z"/><path fill="#25ac82" d="M466.3 237.6h5.8v2.4h-5.8zM242.7 232.8h5.8v2.4h-5.8zM242.7 228h5.8v2.4h-5.8zM196.9 225.6h5.7v2.4h-5.7zM214.1 218.4h5.7v2.4h-5.7zM225.5 218.4h5.8v2.4h-5.8zM191.1 216h23v2.4h-23zM173.9 213.6h5.8v2.4h-5.8zM156.7 208.8h11.5v2.4h-11.5zM156.7 206.4h5.8v2.4h-5.8zM151 204h5.7v2.4h-5.7zM305.8 271.2h5.7v2.4h-5.7zM288.6 268.8h5.7v2.4h-5.7zM277.1 261.6h5.8v2.4h-5.8zM282.9 259.2h5.7v2.4h-5.7zM517.9 254.4h5.8v2.4h-5.8zM512.2 249.6h5.7v2.4h-5.7zM300.1 273.6h5.7v2.4h-5.7zM334.5 280.8h5.7v2.4h-5.7zM391.8 288h5.7v2.4h-5.7zM586.7 312h5.8v2.4h-5.8zM603.9 326.4h11.5v2.4h-11.5zM735.8 328.8h5.7v2.4h-5.7zM632.6 340.8h5.7v2.4h-5.7zM678.5 338.4h5.7v2.4h-5.7zM626.9 343.2h5.7v2.4h-5.7zM689.9 348h5.8v2.4h-5.8z"/><path fill="#22a884" d="M489.3 235.2h5.7v2.4h-5.7zM248.5 232.8h5.7v2.4h-5.7zM242.7 225.6h5.8v2.4h-5.8zM185.4 216h5.7v2.4h-5.7zM214.1 216h5.7v2.4h-5.7zM259.9 240h5.8v2.4h-5.8zM500.7 244.8h5.8v2.4h-5.8zM259.9 247.2h5.8v2.4h-5.8zM300.1 271.2h5.7v2.4h-5.7zM420.5 268.8h5.7v2.4h-5.7zM431.9 264h5.8v2.4h-5.8zM449.1 264h5.8v2.4h-5.8zM288.6 261.6h5.7v2.4h-5.7zM426.2 259.2h5.7v2.4h-5.7zM265.7 254.4h5.7v2.4h-5.7zM265.7 249.6h5.7v2.4h-5.7zM409 278.4h5.7v2.4h-5.7zM328.7 273.6h5.8v2.4h-5.8zM552.3 285.6h5.8v2.4h-5.8zM368.9 280.8h5.7v2.4h-5.7zM546.6 280.8h5.7v2.4h-5.7zM741.5 312h5.8v2.4h-5.8zM615.4 331.2h5.7v2.4h-5.7zM730.1 331.2h5.7v2.4h-5.7zM701.4 333.6h5.7v2.4h-5.7zM621.1 336h5.8v2.4h-5.8zM632.6 338.4h5.7v2.4h-5.7zM649.8 343.2h5.7v2.4h-5.7zM678.5 350.4h5.7v2.4h-5.7zM649.8 355.2h5.7v2.4h-5.7z"/><path fill="#21a585" d="M248.5 237.6h5.7v2.4h-5.7zM460.6 237.6h5.7v2.4h-5.7zM495 237.6h5.7v2.4h-5.7zM460.6 235.2h17.2v2.4h-17.2zM495 235.2h5.7v2.4h-5.7zM237 228h5.7v2.4h-5.7zM214.1 223.2h11.4v2.4h-11.4zM208.3 218.4h5.8v2.4h-5.8zM173.9 216h11.5v2.4h-11.5zM162.5 213.6h5.7v2.4h-5.7zM506.5 242.4h5.7v2.4h-5.7zM506.5 244.8h5.7v2.4h-5.7zM443.4 247.2h5.7v2.4h-5.7zM535.1 261.6h5.8v2.4h-5.8zM294.3 276h5.8v2.4h-5.8zM357.4 276h5.7v2.4h-5.7zM403.3 273.6h5.7v2.4h-5.7zM414.7 273.6h5.8v2.4h-5.8zM363.1 283.2h5.8v2.4h-5.8zM363.1 280.8h5.8v2.4h-5.8zM374.6 280.8h5.7v2.4h-5.7zM592.5 314.4h5.7v2.4h-5.7zM603.9 324h11.5v2.4h-11.5zM718.6 321.6h5.7v2.4h-5.7zM592.5 319.2h5.7v2.4h-5.7zM724.3 319.2h5.8v2.4h-5.8zM609.7 331.2h5.7v2.4h-5.7zM615.4 328.8h5.7v2.4h-5.7zM730.1 328.8h5.7v2.4h-5.7zM684.2 338.4h5.7v2.4h-5.7zM632.6 343.2h17.2v2.4h-17.2zM667 343.2h5.7v2.4h-5.7zM632.6 345.6h5.7v2.4h-5.7zM672.7 352.8h5.8v2.4h-5.8z"/><path fill="#1fa187" d="M202.6 225.6h5.7v2.4h-5.7zM225.5 225.6h5.8v2.4h-5.8zM208.3 223.2h5.8v2.4h-5.8zM237 220.8h5.7v2.4h-5.7zM162.5 211.2h5.7v2.4h-5.7zM414.7 268.8h5.8v2.4h-5.8zM535.1 266.4h5.8v2.4h-5.8zM420.5 261.6h5.7v2.4h-5.7zM431.9 261.6h5.8v2.4h-5.8zM431.9 259.2h5.8v2.4h-5.8zM317.3 278.4h5.7v2.4h-5.7zM323 276h11.5v2.4h-11.5zM368.9 285.6h5.7v2.4h-5.7zM340.2 280.8h5.7v2.4h-5.7zM357.4 280.8h5.7v2.4h-5.7zM380.3 280.8h11.5v2.4h-11.5zM586.7 314.4h5.8v2.4h-5.8zM747.3 324h5.7v2.4h-5.7zM603.9 321.6h5.8v2.4h-5.8zM753 321.6h3v2.4h-3zM701.4 331.2h5.7v2.4h-5.7zM724.3 328.8h5.8v2.4h-5.8zM621.1 340.8h11.5v2.4h-11.5zM701.4 343.2h5.7v2.4h-5.7zM626.9 348h5.7v2.4h-5.7zM638.3 345.6h5.8v2.4h-5.8zM655.5 355.2h5.8v2.4h-5.8z"/><path fill="#1f9f88" d="M237 230.4h5.7v2.4h-5.7zM219.8 225.6h5.7v2.4h-5.7zM202.6 223.2h5.7v2.4h-5.7zM225.5 223.2h5.8v2.4h-5.8zM196.9 220.8h5.7v2.4h-5.7zM179.7 218.4h5.7v2.4h-5.7zM202.6 218.4h5.7v2.4h-5.7zM219.8 216h5.7v2.4h-5.7zM168.2 213.6h5.7v2.4h-5.7zM500.7 242.4h5.8v2.4h-5.8zM265.7 247.2h5.7v2.4h-5.7zM449.1 247.2h5.8v2.4h-5.8zM277.1 259.2h5.8v2.4h-5.8zM397.5 278.4h5.8v2.4h-5.8zM707.1 328.8h5.8v2.4h-5.8zM707.1 333.6h5.8v2.4h-5.8zM718.6 333.6h5.7v2.4h-5.7zM689.9 336h5.8v2.4h-5.8zM672.7 340.8h5.8v2.4h-5.8zM689.9 338.4h5.8v2.4h-5.8zM644.1 345.6h22.9v2.4h-22.9z"/><path fill="#1e9b8a" d="M254.2 237.6h5.7v2.4h-5.7zM208.3 225.6h11.5v2.4h-11.5zM196.9 223.2h5.7v2.4h-5.7zM202.6 220.8h5.7v2.4h-5.7zM225.5 216h5.8v2.4h-5.8zM168.2 211.2h11.5v2.4h-11.5zM259.9 242.4h5.8v2.4h-5.8zM282.9 264h5.7v2.4h-5.7zM420.5 264h5.7v2.4h-5.7zM277.1 254.4h5.8v2.4h-5.8zM300.1 276h5.7v2.4h-5.7zM323 273.6h5.7v2.4h-5.7zM391.8 285.6h5.7v2.4h-5.7zM368.9 283.2h5.7v2.4h-5.7zM345.9 280.8h11.5v2.4h-11.5zM380.3 288h5.8v2.4h-5.8zM563.8 292.8h5.7v2.4h-5.7zM609.7 328.8h5.7v2.4h-5.7zM621.1 333.6h5.8v2.4h-5.8zM615.4 336h5.7v2.4h-5.7zM707.1 338.4h5.8v2.4h-5.8zM695.7 345.6h5.7v2.4h-5.7zM667 352.8h5.7v2.4h-5.7zM672.7 350.4h5.8v2.4h-5.8z"/><path fill="#1f988b" d="M248.5 235.2h5.7v2.4h-5.7zM248.5 230.4h5.7v2.4h-5.7zM179.7 223.2h5.7v2.4h-5.7zM191.1 223.2h5.8v2.4h-5.8zM191.1 220.8h5.8v2.4h-5.8zM219.8 220.8h5.7v2.4h-5.7zM196.9 218.4h5.7v2.4h-5.7zM254.2 240h5.7v2.4h-5.7zM409 271.2h11.5v2.4h-11.5zM288.6 264h5.7v2.4h-5.7zM426.2 261.6h5.7v2.4h-5.7zM363.1 278.4h5.8v2.4h-5.8zM334.5 276h5.7v2.4h-5.7zM397.5 283.2h5.8v2.4h-5.8zM391.8 280.8h5.7v2.4h-5.7zM403.3 280.8h5.7v2.4h-5.7zM558.1 292.8h5.7v2.4h-5.7zM741.5 314.4h5.8v2.4h-5.8zM735.8 316.8h5.7v2.4h-5.7zM718.6 324h5.7v2.4h-5.7zM753 319.2h3v2.4h-3zM724.3 331.2h5.8v2.4h-5.8zM718.6 328.8h5.7v2.4h-5.7zM667 345.6h5.7v2.4h-5.7zM632.6 350.4h5.7v2.4h-5.7z"/><path fill="#1f958b" d="M237 225.6h5.7v2.4h-5.7zM185.4 223.2h5.7v2.4h-5.7zM231.3 223.2h5.7v2.4h-5.7zM208.3 220.8h11.5v2.4h-11.5zM185.4 218.4h5.7v2.4h-5.7zM294.3 266.4h5.8v2.4h-5.8zM426.2 264h5.7v2.4h-5.7zM271.4 256.8h5.7v2.4h-5.7zM403.3 278.4h5.7v2.4h-5.7zM317.3 276h5.7v2.4h-5.7zM317.3 273.6h5.7v2.4h-5.7zM409 273.6h5.7v2.4h-5.7zM374.6 285.6h5.7v2.4h-5.7zM374.6 283.2h5.7v2.4h-5.7zM397.5 280.8h5.8v2.4h-5.8zM615.4 333.6h5.7v2.4h-5.7zM712.9 333.6h5.7v2.4h-5.7zM695.7 338.4h5.7v2.4h-5.7zM672.7 343.2h5.8v2.4h-5.8zM684.2 348h5.7v2.4h-5.7z"/><path fill="#20928c" d="M231.3 225.6h5.7v2.4h-5.7zM237 223.2h5.7v2.4h-5.7zM225.5 220.8h5.8v2.4h-5.8zM191.1 218.4h5.8v2.4h-5.8zM259.9 244.8h5.8v2.4h-5.8zM300.1 268.8h5.7v2.4h-5.7zM529.4 261.6h5.7v2.4h-5.7zM305.8 273.6h11.5v2.4h-11.5zM380.3 285.6h11.5v2.4h-11.5zM380.3 283.2h5.8v2.4h-5.8zM386.1 288h5.7v2.4h-5.7zM724.3 321.6h5.8v2.4h-5.8zM747.3 321.6h5.7v2.4h-5.7zM603.9 319.2h5.8v2.4h-5.8zM730.1 319.2h5.7v2.4h-5.7zM735.8 326.4h5.7v2.4h-5.7zM712.9 328.8h5.7v2.4h-5.7zM615.4 338.4h5.7v2.4h-5.7zM701.4 338.4h5.7v2.4h-5.7zM661.3 352.8h5.7v2.4h-5.7zM667 350.4h5.7v2.4h-5.7z"/><path fill="#218f8d" d="M185.4 220.8h5.7v2.4h-5.7zM231.3 220.8h5.7v2.4h-5.7zM294.3 268.8h5.8v2.4h-5.8zM288.6 266.4h5.7v2.4h-5.7zM282.9 261.6h5.7v2.4h-5.7zM323 278.4h5.7v2.4h-5.7zM351.7 276h5.7v2.4h-5.7zM386.1 283.2h11.4v2.4h-11.4zM724.3 324h5.8v2.4h-5.8zM707.1 331.2h5.8v2.4h-5.8zM718.6 331.2h5.7v2.4h-5.7zM695.7 336h5.7v2.4h-5.7zM712.9 336h5.7v2.4h-5.7zM678.5 340.8h5.7v2.4h-5.7zM638.3 352.8h5.8v2.4h-5.8zM638.3 350.4h11.5v2.4h-11.5z"/><path fill="#228b8d" d="M254.2 235.2h5.7v2.4h-5.7zM271.4 254.4h5.7v2.4h-5.7zM730.1 321.6h5.7v2.4h-5.7zM598.2 319.2h5.7v2.4h-5.7zM747.3 319.2h5.7v2.4h-5.7zM712.9 326.4h5.7v2.4h-5.7zM712.9 331.2h5.7v2.4h-5.7zM695.7 343.2h5.7v2.4h-5.7zM672.7 345.6h5.8v2.4h-5.8zM689.9 345.6h5.8v2.4h-5.8zM649.8 350.4h5.7v2.4h-5.7zM661.3 350.4h5.7v2.4h-5.7z"/><path fill="#23888e" d="M179.7 220.8h5.7v2.4h-5.7zM277.1 256.8h5.8v2.4h-5.8zM265.7 252h11.4v2.4h-11.4zM357.4 278.4h5.7v2.4h-5.7zM311.5 276h5.8v2.4h-5.8zM340.2 276h5.7v2.4h-5.7zM753 314.4h3v2.4h-3zM735.8 321.6h5.7v2.4h-5.7zM701.4 336h11.5v2.4h-11.5zM707.1 340.8h5.8v2.4h-5.8zM626.9 338.4h5.7v2.4h-5.7zM678.5 343.2h5.7v2.4h-5.7zM678.5 348h5.7v2.4h-5.7zM655.5 350.4h5.8v2.4h-5.8z"/><path fill="#25858e" d="M242.7 230.4h5.8v2.4h-5.8zM305.8 276h5.7v2.4h-5.7zM747.3 314.4h5.7v2.4h-5.7zM741.5 324h5.8v2.4h-5.8zM741.5 321.6h5.8v2.4h-5.8zM632.6 348h5.7v2.4h-5.7zM672.7 348h5.8v2.4h-5.8zM655.5 352.8h5.8v2.4h-5.8z"/><path fill="#26828e" d="M345.9 276h5.8v2.4h-5.8zM730.1 324h5.7v2.4h-5.7zM735.8 319.2h11.5v2.4h-11.5zM621.1 338.4h5.8v2.4h-5.8zM689.9 343.2h5.8v2.4h-5.8zM638.3 348h17.2v2.4h-17.2zM667 348h5.7v2.4h-5.7zM678.5 345.6h5.7v2.4h-5.7z"/><path fill="#277f8e" d="M328.7 278.4h5.8v2.4h-5.8zM351.7 278.4h5.7v2.4h-5.7zM684.2 340.8h5.7v2.4h-5.7zM684.2 343.2h5.7v2.4h-5.7zM655.5 348h11.5v2.4h-11.5zM684.2 345.6h5.7v2.4h-5.7zM644.1 352.8h5.7v2.4h-5.7z"/><path fill="#297b8e" d="M345.9 278.4h5.8v2.4h-5.8zM730.1 326.4h5.7v2.4h-5.7zM649.8 352.8h5.7v2.4h-5.7z"/><path fill="#2a788e" d="M334.5 278.4h11.4v2.4h-11.4zM747.3 312h5.7v2.4h-5.7zM741.5 316.8h5.8v2.4h-5.8zM735.8 324h5.7v2.4h-5.7z"/><path fill="#2b748e" d="M689.9 340.8h5.8v2.4h-5.8z"/><path fill="#2c718e" d="M718.6 326.4h11.5v2.4h-11.5zM701.4 340.8h5.7v2.4h-5.7z"/><path fill="#2e6f8e" d="M695.7 340.8h5.7v2.4h-5.7z"/><path fill="#2f6b8e" d="M747.3 316.8h5.7v2.4h-5.7z"/><path fill="#31688e" d="M753 312h3v2.4h-3z"/><path fill="#32648e" d="M753 316.8h3v2.4h-3z"/></g>
<path d="M154.5 60 V420 M181.5 60 V420 M200.5 60 V420 M215.5 60 V420 M227.5 60 V420 M237.5 60 V420 M246.5 60 V420 M253.5 60 V420 M260.5 60 V420 M306.5 60 V420 M333.5 60 V420 M352.5 60 V420 M367.5 60 V420 M379.5 60 V420 M389.5 60 V420 M398.5 60 V420 M406.5 60 V420 M413.5 60 V420 M459.5 60 V420 M485.5 60 V420 M504.5 60 V420 M519.5 60 V420 M531.5 60 V420 M542.5 60 V420 M550.5 60 V420 M558.5 60 V420 M565.5 60 V420 M611.5 60 V420 M638.5 60 V420 M657.5 60 V420 M672.5 60 V420 M684.5 60 V420 M694.5 60 V420 M703.5 60 V420 M711.5 60 V420 M717.5 60 V420 M108 372.5 H756 M108 324.5 H756 M108 276.5 H756 M108 228.5 H756 M108 180.5 H756 M108 132.5 H756 M108 84.5 H756" stroke="#b0b0b0" stroke-width="1.11" fill="none"/>
<g clip-path="url(#axc)"><path d="M260.37 159.60 L312.54 173.76 L337.34 205.20 L397.97 228.00 L501.08 175.20 L513.72 171.60 L534.53 182.40 L549.51 212.40 L593.68 228.00 L610.97 272.40 L801.27 242.40" stroke="#666" stroke-width="2.78" fill="none" stroke-linejoin="round" stroke-linecap="square"/>
<path d="M260.37 343.20 L295.48 340.08 L352.10 340.08 L397.97 346.08 L426.97 332.88 L470.67 296.64 L509.26 278.64 L519.24 278.64 L531.30 297.60 L565.10 333.12 L577.17 338.88 L594.53 329.04 L616.98 366.00 L641.24 384.00 L664.63 390.00 L693.87 390.00 L718.13 384.00 L746.05 384.00 L796.08 390.00" stroke="#666" stroke-width="2.78" fill="none" stroke-linejoin="round" stroke-linecap="square"/></g>
<rect x="108.5" y="60.5" width="648" height="360" fill="none" stroke="#000" stroke-width="1.11"/>
<path d="M108.5 420.5 v4.86" stroke="#000" stroke-width="1.11"/><path d="M154.5 420.5 v2.78" stroke="#000" stroke-width="0.83"/><path d="M181.5 420.5 v2.78" stroke="#000" stroke-width="0.83"/><path d="M200.5 420.5 v2.78" stroke="#000" stroke-width="0.83"/><path d="M215.5 420.5 v2.78" stroke="#000" stroke-width="0.83"/><path d="M227.5 420.5 v2.78" stroke="#000" stroke-width="0.83"/><path d="M237.5 420.5 v2.78" stroke="#000" stroke-width="0.83"/><path d="M246.5 420.5 v2.78" stroke="#000" stroke-width="0.83"/><path d="M253.5 420.5 v2.78" stroke="#000" stroke-width="0.83"/><path d="M260.5 420.5 v4.86" stroke="#000" stroke-width="1.11"/><path d="M306.5 420.5 v2.78" stroke="#000" stroke-width="0.83"/><path d="M333.5 420.5 v2.78" stroke="#000" stroke-width="0.83"/><path d="M352.5 420.5 v2.78" stroke="#000" stroke-width="0.83"/><path d="M367.5 420.5 v2.78" stroke="#000" stroke-width="0.83"/><path d="M379.5 420.5 v2.78" stroke="#000" stroke-width="0.83"/><path d="M389.5 420.5 v2.78" stroke="#000" stroke-width="0.83"/><path d="M398.5 420.5 v2.78" stroke="#000" stroke-width="0.83"/><path d="M406.5 420.5 v2.78" stroke="#000" stroke-width="0.83"/><path d="M413.5 420.5 v4.86" stroke="#000" stroke-width="1.11"/><path d="M459.5 420.5 v2.78" stroke="#000" stroke-width="0.83"/><path d="M485.5 420.5 v2.78" stroke="#000" stroke-width="0.83"/><path d="M504.5 420.5 v2.78" stroke="#000" stroke-width="0.83"/><path d="M519.5 420.5 v2.78" stroke="#000" stroke-width="0.83"/><path d="M531.5 420.5 v2.78" stroke="#000" stroke-width="0.83"/><path d="M542.5 420.5 v2.78" stroke="#000" stroke-width="0.83"/><path d="M550.5 420.5 v2.78" stroke="#000" stroke-width="0.83"/><path d="M558.5 420.5 v2.78" stroke="#000" stroke-width="0.83"/><path d="M565.5 420.5 v4.86" stroke="#000" stroke-width="1.11"/><path d="M611.5 420.5 v2.78" stroke="#000" stroke-width="0.83"/><path d="M638.5 420.5 v2.78" stroke="#000" stroke-width="0.83"/><path d="M657.5 420.5 v2.78" stroke="#000" stroke-width="0.83"/><path d="M672.5 420.5 v2.78" stroke="#000" stroke-width="0.83"/><path d="M684.5 420.5 v2.78" stroke="#000" stroke-width="0.83"/><path d="M694.5 420.5 v2.78" stroke="#000" stroke-width="0.83"/><path d="M703.5 420.5 v2.78" stroke="#000" stroke-width="0.83"/><path d="M711.5 420.5 v2.78" stroke="#000" stroke-width="0.83"/><path d="M717.5 420.5 v4.86" stroke="#000" stroke-width="1.11"/><path d="M108.5 420.5 h-4.86" stroke="#000" stroke-width="1.11"/><path d="M108.5 372.5 h-4.86" stroke="#000" stroke-width="1.11"/><path d="M108.5 324.5 h-4.86" stroke="#000" stroke-width="1.11"/><path d="M108.5 276.5 h-4.86" stroke="#000" stroke-width="1.11"/><path d="M108.5 228.5 h-4.86" stroke="#000" stroke-width="1.11"/><path d="M108.5 180.5 h-4.86" stroke="#000" stroke-width="1.11"/><path d="M108.5 132.5 h-4.86" stroke="#000" stroke-width="1.11"/><path d="M108.5 84.5 h-4.86" stroke="#000" stroke-width="1.11"/>
<g font-family="'DejaVu Sans', 'Liberation Sans', sans-serif" font-size="13.89" fill="#000"><text x="97.4" y="426.30" text-anchor="end" letter-spacing="-0.5">−200</text><text x="97.4" y="378.30" text-anchor="end" letter-spacing="-0.5">−180</text><text x="97.4" y="330.30" text-anchor="end" letter-spacing="-0.5">−160</text><text x="97.4" y="282.30" text-anchor="end" letter-spacing="-0.5">−140</text><text x="97.4" y="234.30" text-anchor="end" letter-spacing="-0.5">−120</text><text x="97.4" y="186.30" text-anchor="end" letter-spacing="-0.5">−100</text><text x="97.4" y="138.30" text-anchor="end" letter-spacing="-0.5">−80</text><text x="97.4" y="90.30" text-anchor="end" letter-spacing="-0.5">−60</text><text x="108.20" y="440.8" text-anchor="middle" letter-spacing="-0.4">0.01</text><text x="260.57" y="440.8" text-anchor="middle" letter-spacing="-0.4">0.1</text><text x="412.94" y="440.8" text-anchor="middle" letter-spacing="-0.4">1</text><text x="565.30" y="440.8" text-anchor="middle" letter-spacing="-0.4">10</text><text x="717.67" y="440.8" text-anchor="middle" letter-spacing="-0.4">100</text>
<text x="432.5" y="52" text-anchor="middle" font-size="13.8">1Y.GR30.00.HHZ | 100.0Hz | 2025-11-14T00:00:02 - 2025-12-12T23:00:02 | 1185 segments</text>
<text x="432" y="459.7" text-anchor="middle">Period [s]</text>
<text transform="translate(46.5 240) rotate(-90)" text-anchor="middle"><tspan letter-spacing="-0.2">Amplitude [</tspan><tspan font-style="italic">m</tspan><tspan font-size="9.5" dy="-5.5" dx="1.5">2</tspan><tspan dy="5.5">/</tspan><tspan font-style="italic">s</tspan><tspan font-size="9.5" dy="-5.5" dx="0.5">4</tspan><tspan dy="5.5">/</tspan><tspan font-style="italic">Hz</tspan>] [dB]</text>
</g>
<rect x="797" y="60" width="18.5" height="360" fill="url(#cbg)"/>
<rect x="797.5" y="60.5" width="18" height="360" fill="none" stroke="#000" stroke-width="1.11"/>
<path d="M815.5 420.5 h4.86" stroke="#000" stroke-width="1.11"/><text x="824.9" y="426.30" letter-spacing="-0.4" font-family="'DejaVu Sans', 'Liberation Sans', sans-serif" font-size="13.89">0</text><path d="M815.5 360.5 h4.86" stroke="#000" stroke-width="1.11"/><text x="824.9" y="366.30" letter-spacing="-0.4" font-family="'DejaVu Sans', 'Liberation Sans', sans-serif" font-size="13.89">5</text><path d="M815.5 300.5 h4.86" stroke="#000" stroke-width="1.11"/><text x="824.9" y="306.30" letter-spacing="-0.4" font-family="'DejaVu Sans', 'Liberation Sans', sans-serif" font-size="13.89">10</text><path d="M815.5 240.5 h4.86" stroke="#000" stroke-width="1.11"/><text x="824.9" y="246.30" letter-spacing="-0.4" font-family="'DejaVu Sans', 'Liberation Sans', sans-serif" font-size="13.89">15</text><path d="M815.5 180.5 h4.86" stroke="#000" stroke-width="1.11"/><text x="824.9" y="186.30" letter-spacing="-0.4" font-family="'DejaVu Sans', 'Liberation Sans', sans-serif" font-size="13.89">20</text><path d="M815.5 120.5 h4.86" stroke="#000" stroke-width="1.11"/><text x="824.9" y="126.30" letter-spacing="-0.4" font-family="'DejaVu Sans', 'Liberation Sans', sans-serif" font-size="13.89">25</text><path d="M815.5 60.5 h4.86" stroke="#000" stroke-width="1.11"/><text x="824.9" y="66.30" letter-spacing="-0.4" font-family="'DejaVu Sans', 'Liberation Sans', sans-serif" font-size="13.89">30</text>
<text transform="translate(858.5 242.5) rotate(-90)" text-anchor="middle" font-family="'DejaVu Sans', 'Liberation Sans', sans-serif" font-size="13.89">[%]</text>
<g shape-rendering="crispEdges">
<rect x="164.0" y="474" width="123.8" height="9.7" fill="#008000"/><rect x="316.2" y="474" width="267.6" height="9.7" fill="#008000"/><rect x="603.3" y="474" width="94.5" height="9.7" fill="#008000"/><rect x="717.1" y="474" width="18.7" height="9.7" fill="#008000"/><rect x="182.9" y="483.7" width="104.9" height="14.3" fill="#0000ff"/><rect x="316.2" y="483.7" width="266.5" height="14.3" fill="#0000ff"/><rect x="603.3" y="483.7" width="94.5" height="14.3" fill="#0000ff"/><rect x="717.1" y="483.7" width="18.7" height="14.3" fill="#0000ff"/><rect x="354" y="483.7" width="1" height="14.3" fill="#fff"/><rect x="392" y="483.7" width="1" height="14.3" fill="#fff"/><rect x="411" y="474" width="1" height="24" fill="#fff"/></g>
<rect x="135.5" y="474.5" width="630" height="24" fill="none" stroke="#000" stroke-width="1.11"/>
<path d="M164.5 498.5 v4.86" stroke="#000" stroke-width="1.11"/><text transform="translate(162.00 518) rotate(-30)" text-anchor="end" font-family="'DejaVu Sans', 'Liberation Sans', sans-serif" font-size="13.89">2025-11-13</text><path d="M240.5 498.5 v4.86" stroke="#000" stroke-width="1.11"/><text transform="translate(238.00 518) rotate(-30)" text-anchor="end" font-family="'DejaVu Sans', 'Liberation Sans', sans-serif" font-size="13.89">2025-11-17</text><path d="M316.5 498.5 v4.86" stroke="#000" stroke-width="1.11"/><text transform="translate(314.00 518) rotate(-30)" text-anchor="end" font-family="'DejaVu Sans', 'Liberation Sans', sans-serif" font-size="13.89">2025-11-21</text><path d="M393.5 498.5 v4.86" stroke="#000" stroke-width="1.11"/><text transform="translate(391.00 518) rotate(-30)" text-anchor="end" font-family="'DejaVu Sans', 'Liberation Sans', sans-serif" font-size="13.89">2025-11-25</text><path d="M469.5 498.5 v4.86" stroke="#000" stroke-width="1.11"/><text transform="translate(467.00 518) rotate(-30)" text-anchor="end" font-family="'DejaVu Sans', 'Liberation Sans', sans-serif" font-size="13.89">2025-11-29</text><path d="M507.5 498.5 v4.86" stroke="#000" stroke-width="1.11"/><text transform="translate(505.00 518) rotate(-30)" text-anchor="end" font-family="'DejaVu Sans', 'Liberation Sans', sans-serif" font-size="13.89">2025-12-01</text><path d="M584.5 498.5 v4.86" stroke="#000" stroke-width="1.11"/><text transform="translate(582.00 518) rotate(-30)" text-anchor="end" font-family="'DejaVu Sans', 'Liberation Sans', sans-serif" font-size="13.89">2025-12-05</text><path d="M660.5 498.5 v4.86" stroke="#000" stroke-width="1.11"/><text transform="translate(658.00 518) rotate(-30)" text-anchor="end" font-family="'DejaVu Sans', 'Liberation Sans', sans-serif" font-size="13.89">2025-12-09</text><path d="M736.5 498.5 v4.86" stroke="#000" stroke-width="1.11"/><text transform="translate(734.00 518) rotate(-30)" text-anchor="end" font-family="'DejaVu Sans', 'Liberation Sans', sans-serif" font-size="13.89">2025-12-13</text>
<rect x="0" y="577" width="900" height="23" fill="#808080"/>
<text class="w" x="8.8" y="594.7" fill="#fff" font-family="'DejaVu Sans', 'Liberation Sans', sans-serif" font-size="13.89">Generated by SeedPSD on 2025-12-14 | Calculations updated on 2025-12-13</text>
</svg></body></html>
